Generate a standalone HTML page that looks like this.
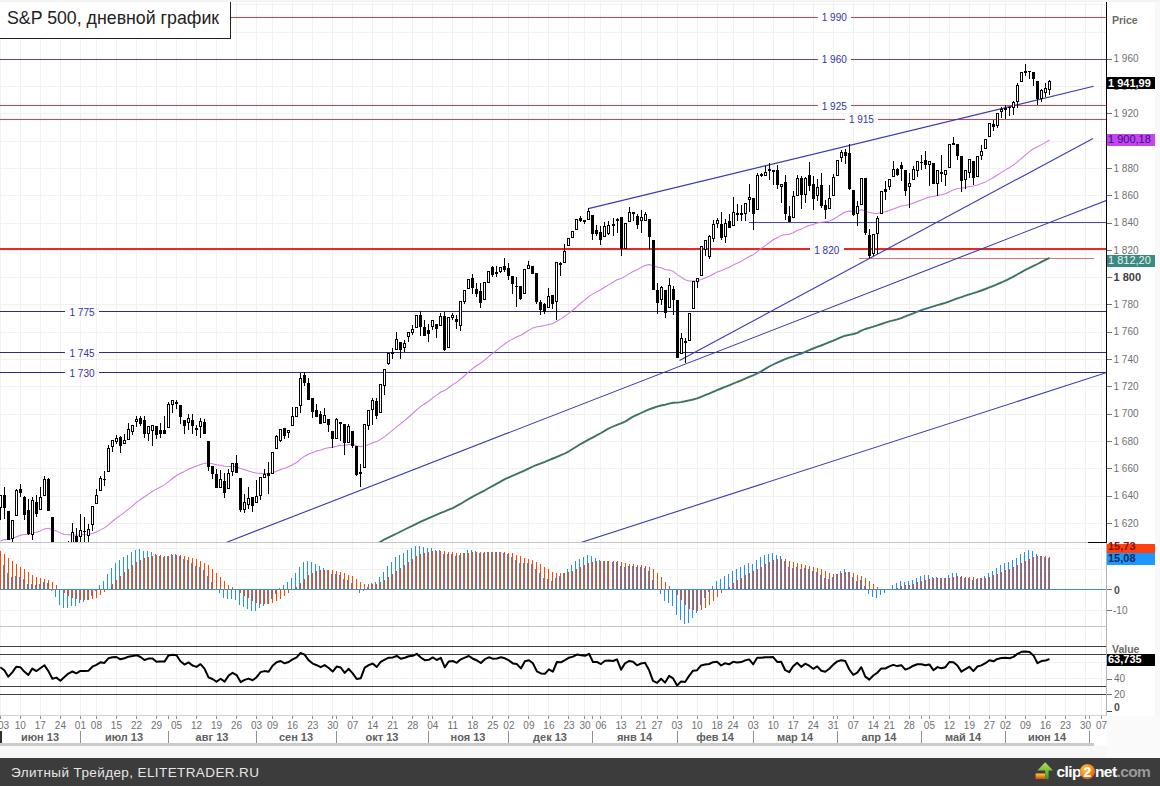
<!DOCTYPE html>
<html><head><meta charset="utf-8"><style>
html,body{margin:0;padding:0;background:#fff;}
body{width:1160px;height:786px;position:relative;overflow:hidden;font-family:"Liberation Sans",sans-serif;}
</style></head><body>
<svg width="1160" height="786" viewBox="0 0 1160 786" shape-rendering="crispEdges" style="position:absolute;left:0;top:0">
<defs><clipPath id="cm"><rect x="0" y="0" width="1106" height="542"/></clipPath>
<clipPath id="cd"><rect x="0" y="543" width="1106" height="83"/></clipPath>
<clipPath id="cr"><rect x="0" y="627" width="1106" height="88"/></clipPath></defs>
<rect x="0" y="0" width="1160" height="786" fill="#ffffff"/>
<path d="M0 0V715M20 0V715M40 0V715M60 0V715M80 0V715M96 0V715M116 0V715M136 0V715M156 0V715M176 0V715M196 0V715M216 0V715M236 0V715M256 0V715M272 0V715M292 0V715M312 0V715M332 0V715M352 0V715M372 0V715M392 0V715M412 0V715M432 0V715M452 0V715M472 0V715M492 0V715M508 0V715M528 0V715M548 0V715M568 0V715M584 0V715M600 0V715M621 0V715M641 0V715M657 0V715M677 0V715M697 0V715M717 0V715M733 0V715M753 0V715M773 0V715M793 0V715M813 0V715M833 0V715M853 0V715M873 0V715M889 0V715M909 0V715M929 0V715M949 0V715M969 0V715M989 0V715M1005 0V715M1025 0V715M1045 0V715M1065 0V715M1085 0V715M1101 0V715M0 523H1106M0 496H1106M0 468H1106M0 441H1106M0 414H1106M0 386H1106M0 359H1106M0 332H1106M0 304H1106M0 277H1106M0 250H1106M0 223H1106M0 195H1106M0 168H1106M0 141H1106M0 113H1106M0 86H1106M0 59H1106M0 32H1106M0 4H1106M0 569H1106M0 610H1106M0 548H1106M0 678H1106M0 662H1106" stroke="#f1f1f1" stroke-width="1" fill="none" transform="translate(0.5,0.5)"/>
<g clip-path="url(#cm)">
<rect x="0.0" y="16.5" width="817.7" height="1" fill="#d84040"/>
<rect x="851.0" y="16.5" width="255.0" height="1" fill="#d84040"/>
<rect x="0.0" y="58.5" width="817.7" height="1" fill="#4848c8"/>
<rect x="851.0" y="58.5" width="255.0" height="1" fill="#4848c8"/>
<rect x="0.0" y="105.0" width="817.7" height="1" fill="#d84040"/>
<rect x="851.0" y="105.0" width="255.0" height="1" fill="#d84040"/>
<rect x="0.0" y="118.5" width="844.5" height="1" fill="#d84040"/>
<rect x="878.3" y="118.5" width="227.7" height="1" fill="#d84040"/>
<rect x="749.0" y="221.5" width="357.0" height="1" fill="#4a4aa8"/>
<rect x="0.0" y="248.0" width="809.6" height="2" fill="#e82828"/>
<rect x="844.0" y="248.0" width="262.0" height="2" fill="#e82828"/>
<rect x="858.6" y="257.5" width="235.0" height="1" fill="#d27878"/>
<rect x="0.0" y="311.0" width="65.0" height="1" fill="#2c2c7c"/>
<rect x="99.0" y="311.0" width="1007.0" height="1" fill="#2c2c7c"/>
<rect x="0.0" y="352.0" width="65.0" height="1" fill="#2c2c7c"/>
<rect x="99.0" y="352.0" width="1007.0" height="1" fill="#2c2c7c"/>
<rect x="0.0" y="372.0" width="65.0" height="1" fill="#2c2c7c"/>
<rect x="99.0" y="372.0" width="1007.0" height="1" fill="#2c2c7c"/>
<line x1="588.4" y1="208.6" x2="1093.6" y2="86.3" stroke="#3a3ab0" stroke-width="1.1" shape-rendering="auto"/>
<line x1="679.5" y1="360.5" x2="1093.0" y2="138.4" stroke="#3a3ab0" stroke-width="1.1" shape-rendering="auto"/>
<line x1="226.2" y1="542.5" x2="1110.0" y2="199.0" stroke="#3a3ab0" stroke-width="1.1" shape-rendering="auto"/>
<line x1="579.5" y1="543.0" x2="1110.0" y2="371.5" stroke="#3a3ab0" stroke-width="1.1" shape-rendering="auto"/>
<polyline points="377.5,543.5 384.7,539.3 388.7,537.4 392.8,535.4 396.8,533.5 400.8,531.5 404.8,529.5 408.8,527.5 412.8,525.6 416.8,523.6 420.8,521.7 424.8,519.9 428.8,518.1 432.8,516.3 436.8,514.6 440.8,512.9 444.8,511.4 448.8,509.7 452.8,508.1 456.8,505.9 460.8,503.7 464.8,501.3 468.8,498.9 472.8,496.7 476.8,494.5 480.9,492.4 484.9,490.3 488.9,488.0 492.9,485.8 496.9,483.6 500.9,481.4 504.9,479.2 508.9,477.3 512.9,475.6 516.9,473.9 520.9,472.2 524.9,470.3 528.9,468.4 532.9,466.5 536.9,464.8 540.9,463.3 544.9,461.8 548.9,460.1 552.9,458.5 556.9,456.8 560.9,455.2 564.9,453.5 569.0,451.3 573.0,448.8 577.0,446.3 581.0,443.8 585.0,441.6 589.0,439.4 593.0,437.3 597.0,435.1 601.0,433.0 605.0,430.6 609.0,428.3 613.0,426.5 617.0,424.8 621.0,423.3 625.0,421.6 629.0,419.1 633.0,416.6 637.0,414.8 641.0,413.0 645.0,411.1 649.0,409.4 653.0,408.0 657.1,406.7 661.1,405.5 665.1,404.7 669.1,403.6 673.1,402.8 677.1,402.6 681.1,402.1 685.1,401.3 689.1,400.4 693.1,399.5 697.1,398.4 701.1,396.8 705.1,395.2 709.1,393.6 713.1,391.8 717.1,390.1 721.1,388.5 725.1,386.9 729.1,385.3 733.1,383.7 737.1,382.0 741.2,380.4 745.2,378.7 749.2,376.9 753.2,375.3 757.2,373.4 761.2,371.4 765.2,368.9 769.2,366.5 773.2,364.5 777.2,362.6 781.2,360.8 785.2,359.1 789.2,357.7 793.2,356.4 797.2,354.9 801.2,353.5 805.2,351.9 809.2,350.1 813.2,348.5 817.2,346.9 821.2,345.5 825.2,343.9 829.3,342.2 833.3,340.6 837.3,338.8 841.3,337.1 845.3,335.7 849.3,334.9 853.3,334.0 857.3,332.8 861.3,330.7 865.3,329.0 869.3,327.8 873.3,326.6 877.3,325.3 881.3,324.0 885.3,322.6 889.3,321.4 893.3,320.3 897.3,319.3 901.3,318.1 905.3,316.4 909.3,314.9 913.3,313.3 917.4,311.7 921.4,310.2 925.4,308.9 929.4,307.6 933.4,306.4 937.4,305.2 941.4,304.0 945.4,302.9 949.4,301.4 953.4,299.9 957.4,298.4 961.4,297.1 965.4,295.7 969.4,294.4 973.4,293.2 977.4,291.9 981.4,290.5 985.4,289.0 989.4,287.4 993.4,285.8 997.4,284.1 1001.4,282.5 1005.5,280.7 1009.5,278.7 1013.5,276.6 1017.5,274.3 1021.5,272.1 1025.5,269.8 1029.5,267.8 1033.5,265.9 1037.5,264.0 1041.5,261.9 1045.5,259.8 1049.5,257.8" fill="none" stroke="#3f7266" stroke-width="1.9" shape-rendering="auto" stroke-linejoin="round"/>
<polyline points="0.3,540.9 4.3,539.6 8.3,539.6 12.3,538.8 16.3,536.9 20.3,535.2 24.3,534.4 28.3,534.4 32.3,533.0 36.3,532.3 40.3,530.9 44.4,528.9 48.4,528.2 52.4,529.7 56.4,530.9 60.4,533.1 64.4,534.4 68.4,534.8 72.4,534.7 76.4,535.2 80.4,535.0 84.4,534.8 88.4,534.6 92.4,533.5 96.4,532.0 100.4,529.9 104.4,527.9 108.4,524.8 112.4,521.5 116.4,518.2 120.4,515.4 124.4,512.4 128.4,509.2 132.5,505.9 136.5,502.4 140.5,499.4 144.5,496.8 148.5,494.1 152.5,491.3 156.5,489.1 160.5,487.0 164.5,484.9 168.5,481.7 172.5,478.5 176.5,475.5 180.5,473.2 184.5,471.4 188.5,469.3 192.5,467.6 196.5,466.1 200.5,464.4 204.5,463.2 208.5,463.3 212.5,463.7 216.5,464.7 220.6,465.2 224.6,466.3 228.6,466.6 232.6,466.5 236.6,466.7 240.6,468.4 244.6,469.8 248.6,470.9 252.6,472.2 256.6,473.2 260.6,473.3 264.6,473.4 268.6,473.5 272.6,472.6 276.6,471.2 280.6,469.5 284.6,468.2 288.6,466.7 292.6,464.8 296.6,462.5 300.6,459.2 304.6,456.2 308.7,454.0 312.7,452.4 316.7,451.0 320.7,449.9 324.7,448.6 328.7,447.7 332.7,447.3 336.7,446.2 340.7,445.3 344.7,445.2 348.7,444.4 352.7,444.5 356.7,445.7 360.7,446.7 364.7,445.8 368.7,444.4 372.7,442.7 376.7,441.6 380.7,439.4 384.7,436.6 388.7,433.3 392.8,430.1 396.8,426.6 400.8,423.6 404.8,420.4 408.8,417.0 412.8,413.5 416.8,409.7 420.8,406.4 424.8,403.7 428.8,401.0 432.8,397.8 436.8,395.1 440.8,392.0 444.8,390.4 448.8,387.5 452.8,384.6 456.8,382.2 460.8,379.0 464.8,375.5 468.8,371.7 472.8,368.4 476.8,365.5 480.9,363.0 484.9,359.9 488.9,356.4 492.9,353.2 496.9,350.1 500.9,346.8 504.9,343.8 508.9,341.1 512.9,338.9 516.9,336.8 520.9,335.3 524.9,332.7 528.9,330.1 532.9,327.9 536.9,326.8 540.9,326.2 544.9,325.6 548.9,324.4 552.9,323.6 556.9,321.2 560.9,318.9 564.9,316.3 569.0,313.2 573.0,310.0 577.0,306.4 581.0,303.0 585.0,299.9 589.0,296.4 593.0,293.9 597.0,291.6 601.0,289.5 605.0,287.0 609.0,284.6 613.0,282.3 617.0,279.8 621.0,278.6 625.0,276.4 629.0,273.9 633.0,271.5 637.0,269.7 641.0,267.6 645.0,265.5 649.0,264.4 653.0,265.4 657.1,266.9 661.1,267.7 665.1,269.4 669.1,270.0 673.1,271.2 677.1,274.6 681.1,277.1 685.1,279.7 689.1,281.0 693.1,281.0 697.1,280.9 701.1,279.5 705.1,278.0 709.1,276.3 713.1,274.2 717.1,272.1 721.1,270.8 725.1,268.9 729.1,267.3 733.1,265.1 737.1,263.2 741.2,261.2 745.2,258.9 749.2,256.5 753.2,254.8 757.2,251.7 761.2,248.6 765.2,245.6 769.2,242.7 773.2,239.8 777.2,237.7 781.2,235.6 785.2,234.7 789.2,234.2 793.2,232.7 797.2,230.5 801.2,229.1 805.2,227.1 809.2,225.5 813.2,224.5 817.2,223.0 821.2,222.3 825.2,221.8 829.3,220.9 833.3,219.2 837.3,216.9 841.3,214.3 845.3,212.0 849.3,211.1 853.3,211.3 857.3,211.1 861.3,209.8 865.3,210.7 869.3,212.5 873.3,213.3 877.3,213.5 881.3,212.6 885.3,211.8 889.3,210.5 893.3,208.9 897.3,207.6 901.3,206.1 905.3,205.5 909.3,204.6 913.3,203.2 917.4,201.6 921.4,200.0 925.4,198.6 929.4,197.1 933.4,196.6 937.4,195.6 941.4,194.7 945.4,193.7 949.4,191.8 953.4,189.9 957.4,188.6 961.4,188.3 965.4,187.6 969.4,186.5 973.4,186.1 977.4,185.0 981.4,183.6 985.4,181.9 989.4,179.6 993.4,177.5 997.4,175.0 1001.4,172.4 1005.5,169.9 1009.5,167.5 1013.5,164.9 1017.5,161.8 1021.5,158.3 1025.5,154.8 1029.5,151.6 1033.5,148.7 1037.5,146.8 1041.5,144.6 1045.5,142.4 1049.5,140.0" fill="none" stroke="#d07ce0" stroke-width="1.05" shape-rendering="auto" stroke-linejoin="round"/>
<rect x="0" y="495" width="1" height="25" fill="#000"/>
<rect x="-1" y="495" width="3" height="13" fill="#000"/>
<rect x="0" y="496" width="1" height="11" fill="#fff"/>
<rect x="4" y="487" width="1" height="32" fill="#000"/>
<rect x="3" y="495" width="3" height="13" fill="#000"/>
<rect x="8" y="511" width="1" height="29" fill="#000"/>
<rect x="7" y="511" width="3" height="29" fill="#000"/>
<rect x="12" y="520" width="1" height="25" fill="#000"/>
<rect x="11" y="520" width="3" height="19" fill="#000"/>
<rect x="12" y="521" width="1" height="17" fill="#fff"/>
<rect x="16" y="489" width="1" height="27" fill="#000"/>
<rect x="15" y="490" width="3" height="26" fill="#000"/>
<rect x="16" y="491" width="1" height="24" fill="#fff"/>
<rect x="20" y="484" width="1" height="13" fill="#000"/>
<rect x="19" y="489" width="3" height="4" fill="#000"/>
<rect x="24" y="496" width="1" height="24" fill="#000"/>
<rect x="23" y="497" width="3" height="18" fill="#000"/>
<rect x="28" y="499" width="1" height="36" fill="#000"/>
<rect x="27" y="510" width="3" height="24" fill="#000"/>
<rect x="32" y="497" width="1" height="43" fill="#000"/>
<rect x="31" y="500" width="3" height="35" fill="#000"/>
<rect x="32" y="501" width="1" height="33" fill="#fff"/>
<rect x="36" y="495" width="1" height="22" fill="#000"/>
<rect x="35" y="502" width="3" height="12" fill="#000"/>
<rect x="40" y="487" width="1" height="23" fill="#000"/>
<rect x="39" y="497" width="3" height="13" fill="#000"/>
<rect x="40" y="498" width="1" height="11" fill="#fff"/>
<rect x="44" y="476" width="1" height="20" fill="#000"/>
<rect x="43" y="479" width="3" height="17" fill="#000"/>
<rect x="44" y="480" width="1" height="15" fill="#fff"/>
<rect x="48" y="478" width="1" height="33" fill="#000"/>
<rect x="47" y="479" width="3" height="32" fill="#000"/>
<rect x="52" y="517" width="1" height="49" fill="#000"/>
<rect x="51" y="517" width="3" height="48" fill="#000"/>
<rect x="56" y="546" width="1" height="16" fill="#000"/>
<rect x="55" y="548" width="3" height="12" fill="#000"/>
<rect x="60" y="555" width="1" height="25" fill="#000"/>
<rect x="59" y="560" width="3" height="15" fill="#000"/>
<rect x="64" y="555" width="1" height="20" fill="#000"/>
<rect x="63" y="560" width="3" height="10" fill="#000"/>
<rect x="64" y="561" width="1" height="8" fill="#fff"/>
<rect x="68" y="541" width="1" height="20" fill="#000"/>
<rect x="67" y="549" width="3" height="11" fill="#000"/>
<rect x="68" y="550" width="1" height="9" fill="#fff"/>
<rect x="72" y="523" width="1" height="22" fill="#000"/>
<rect x="71" y="532" width="3" height="13" fill="#000"/>
<rect x="72" y="533" width="1" height="11" fill="#fff"/>
<rect x="76" y="528" width="1" height="17" fill="#000"/>
<rect x="75" y="536" width="3" height="9" fill="#000"/>
<rect x="80" y="514" width="1" height="31" fill="#000"/>
<rect x="79" y="530" width="3" height="7" fill="#000"/>
<rect x="80" y="531" width="1" height="5" fill="#fff"/>
<rect x="84" y="517" width="1" height="28" fill="#000"/>
<rect x="83" y="531" width="3" height="1" fill="#000"/>
<rect x="88" y="524" width="1" height="21" fill="#000"/>
<rect x="87" y="529" width="3" height="7" fill="#000"/>
<rect x="88" y="530" width="1" height="5" fill="#fff"/>
<rect x="92" y="506" width="1" height="25" fill="#000"/>
<rect x="91" y="506" width="3" height="19" fill="#000"/>
<rect x="92" y="507" width="1" height="17" fill="#fff"/>
<rect x="96" y="489" width="1" height="15" fill="#000"/>
<rect x="95" y="495" width="3" height="9" fill="#000"/>
<rect x="96" y="496" width="1" height="7" fill="#fff"/>
<rect x="100" y="476" width="1" height="15" fill="#000"/>
<rect x="99" y="478" width="3" height="13" fill="#000"/>
<rect x="100" y="479" width="1" height="11" fill="#fff"/>
<rect x="104" y="471" width="1" height="15" fill="#000"/>
<rect x="103" y="479" width="3" height="1" fill="#000"/>
<rect x="108" y="445" width="1" height="27" fill="#000"/>
<rect x="107" y="448" width="3" height="24" fill="#000"/>
<rect x="108" y="449" width="1" height="22" fill="#fff"/>
<rect x="112" y="440" width="1" height="12" fill="#000"/>
<rect x="111" y="440" width="3" height="7" fill="#000"/>
<rect x="112" y="441" width="1" height="5" fill="#fff"/>
<rect x="116" y="435" width="1" height="9" fill="#000"/>
<rect x="115" y="438" width="3" height="4" fill="#000"/>
<rect x="116" y="439" width="1" height="2" fill="#fff"/>
<rect x="120" y="436" width="1" height="17" fill="#000"/>
<rect x="119" y="437" width="3" height="9" fill="#000"/>
<rect x="124" y="434" width="1" height="10" fill="#000"/>
<rect x="123" y="440" width="3" height="4" fill="#000"/>
<rect x="124" y="441" width="1" height="2" fill="#fff"/>
<rect x="128" y="423" width="1" height="17" fill="#000"/>
<rect x="127" y="429" width="3" height="11" fill="#000"/>
<rect x="128" y="430" width="1" height="9" fill="#fff"/>
<rect x="132" y="425" width="1" height="10" fill="#000"/>
<rect x="131" y="425" width="3" height="7" fill="#000"/>
<rect x="132" y="426" width="1" height="5" fill="#fff"/>
<rect x="136" y="416" width="1" height="11" fill="#000"/>
<rect x="135" y="419" width="3" height="3" fill="#000"/>
<rect x="136" y="420" width="1" height="1" fill="#fff"/>
<rect x="140" y="416" width="1" height="10" fill="#000"/>
<rect x="139" y="418" width="3" height="6" fill="#000"/>
<rect x="144" y="416" width="1" height="22" fill="#000"/>
<rect x="143" y="420" width="3" height="14" fill="#000"/>
<rect x="148" y="426" width="1" height="15" fill="#000"/>
<rect x="147" y="426" width="3" height="8" fill="#000"/>
<rect x="148" y="427" width="1" height="6" fill="#fff"/>
<rect x="152" y="425" width="1" height="21" fill="#000"/>
<rect x="151" y="425" width="3" height="6" fill="#000"/>
<rect x="152" y="426" width="1" height="4" fill="#fff"/>
<rect x="156" y="426" width="1" height="13" fill="#000"/>
<rect x="155" y="426" width="3" height="9" fill="#000"/>
<rect x="160" y="423" width="1" height="15" fill="#000"/>
<rect x="159" y="430" width="3" height="4" fill="#000"/>
<rect x="164" y="416" width="1" height="18" fill="#000"/>
<rect x="163" y="430" width="3" height="4" fill="#000"/>
<rect x="168" y="402" width="1" height="26" fill="#000"/>
<rect x="167" y="404" width="3" height="24" fill="#000"/>
<rect x="168" y="405" width="1" height="22" fill="#fff"/>
<rect x="172" y="400" width="1" height="13" fill="#000"/>
<rect x="171" y="400" width="3" height="5" fill="#000"/>
<rect x="172" y="401" width="1" height="3" fill="#fff"/>
<rect x="176" y="400" width="1" height="9" fill="#000"/>
<rect x="175" y="402" width="3" height="2" fill="#000"/>
<rect x="180" y="405" width="1" height="19" fill="#000"/>
<rect x="179" y="405" width="3" height="12" fill="#000"/>
<rect x="184" y="420" width="1" height="14" fill="#000"/>
<rect x="183" y="420" width="3" height="6" fill="#000"/>
<rect x="188" y="414" width="1" height="16" fill="#000"/>
<rect x="187" y="418" width="3" height="5" fill="#000"/>
<rect x="188" y="419" width="1" height="3" fill="#fff"/>
<rect x="192" y="414" width="1" height="20" fill="#000"/>
<rect x="191" y="420" width="3" height="6" fill="#000"/>
<rect x="196" y="425" width="1" height="11" fill="#000"/>
<rect x="195" y="428" width="3" height="2" fill="#000"/>
<rect x="200" y="418" width="1" height="20" fill="#000"/>
<rect x="199" y="421" width="3" height="6" fill="#000"/>
<rect x="200" y="422" width="1" height="4" fill="#fff"/>
<rect x="204" y="419" width="1" height="15" fill="#000"/>
<rect x="203" y="422" width="3" height="12" fill="#000"/>
<rect x="208" y="441" width="1" height="30" fill="#000"/>
<rect x="207" y="441" width="3" height="26" fill="#000"/>
<rect x="212" y="466" width="1" height="13" fill="#000"/>
<rect x="211" y="466" width="3" height="8" fill="#000"/>
<rect x="216" y="469" width="1" height="19" fill="#000"/>
<rect x="215" y="474" width="3" height="14" fill="#000"/>
<rect x="220" y="470" width="1" height="18" fill="#000"/>
<rect x="219" y="479" width="3" height="9" fill="#000"/>
<rect x="220" y="480" width="1" height="7" fill="#fff"/>
<rect x="224" y="473" width="1" height="25" fill="#000"/>
<rect x="223" y="481" width="3" height="12" fill="#000"/>
<rect x="228" y="469" width="1" height="20" fill="#000"/>
<rect x="227" y="473" width="3" height="16" fill="#000"/>
<rect x="228" y="474" width="1" height="14" fill="#fff"/>
<rect x="232" y="463" width="1" height="13" fill="#000"/>
<rect x="231" y="463" width="3" height="9" fill="#000"/>
<rect x="232" y="464" width="1" height="7" fill="#fff"/>
<rect x="236" y="455" width="1" height="18" fill="#000"/>
<rect x="235" y="463" width="3" height="10" fill="#000"/>
<rect x="240" y="478" width="1" height="34" fill="#000"/>
<rect x="239" y="478" width="3" height="32" fill="#000"/>
<rect x="244" y="494" width="1" height="19" fill="#000"/>
<rect x="243" y="502" width="3" height="8" fill="#000"/>
<rect x="244" y="503" width="1" height="6" fill="#fff"/>
<rect x="248" y="487" width="1" height="22" fill="#000"/>
<rect x="247" y="498" width="3" height="7" fill="#000"/>
<rect x="248" y="499" width="1" height="5" fill="#fff"/>
<rect x="252" y="497" width="1" height="15" fill="#000"/>
<rect x="251" y="497" width="3" height="9" fill="#000"/>
<rect x="256" y="480" width="1" height="23" fill="#000"/>
<rect x="255" y="496" width="3" height="7" fill="#000"/>
<rect x="256" y="497" width="1" height="5" fill="#fff"/>
<rect x="260" y="477" width="1" height="23" fill="#000"/>
<rect x="259" y="477" width="3" height="19" fill="#000"/>
<rect x="260" y="478" width="1" height="17" fill="#fff"/>
<rect x="264" y="469" width="1" height="9" fill="#000"/>
<rect x="263" y="474" width="3" height="4" fill="#000"/>
<rect x="264" y="475" width="1" height="2" fill="#fff"/>
<rect x="268" y="462" width="1" height="32" fill="#000"/>
<rect x="267" y="473" width="3" height="3" fill="#000"/>
<rect x="272" y="452" width="1" height="22" fill="#000"/>
<rect x="271" y="452" width="3" height="22" fill="#000"/>
<rect x="272" y="453" width="1" height="20" fill="#fff"/>
<rect x="276" y="435" width="1" height="14" fill="#000"/>
<rect x="275" y="436" width="3" height="13" fill="#000"/>
<rect x="276" y="437" width="1" height="11" fill="#fff"/>
<rect x="280" y="429" width="1" height="13" fill="#000"/>
<rect x="279" y="429" width="3" height="12" fill="#000"/>
<rect x="280" y="430" width="1" height="10" fill="#fff"/>
<rect x="284" y="428" width="1" height="11" fill="#000"/>
<rect x="283" y="428" width="3" height="8" fill="#000"/>
<rect x="288" y="430" width="1" height="8" fill="#000"/>
<rect x="287" y="430" width="3" height="3" fill="#000"/>
<rect x="288" y="431" width="1" height="1" fill="#fff"/>
<rect x="292" y="407" width="1" height="19" fill="#000"/>
<rect x="291" y="416" width="3" height="10" fill="#000"/>
<rect x="292" y="417" width="1" height="8" fill="#fff"/>
<rect x="296" y="407" width="1" height="10" fill="#000"/>
<rect x="295" y="407" width="3" height="10" fill="#000"/>
<rect x="296" y="408" width="1" height="8" fill="#fff"/>
<rect x="300" y="373" width="1" height="40" fill="#000"/>
<rect x="299" y="378" width="3" height="28" fill="#000"/>
<rect x="300" y="379" width="1" height="26" fill="#fff"/>
<rect x="304" y="372" width="1" height="14" fill="#000"/>
<rect x="303" y="375" width="3" height="8" fill="#000"/>
<rect x="308" y="378" width="1" height="22" fill="#000"/>
<rect x="307" y="383" width="3" height="17" fill="#000"/>
<rect x="312" y="398" width="1" height="20" fill="#000"/>
<rect x="311" y="398" width="3" height="14" fill="#000"/>
<rect x="316" y="404" width="1" height="13" fill="#000"/>
<rect x="315" y="410" width="3" height="7" fill="#000"/>
<rect x="320" y="411" width="1" height="13" fill="#000"/>
<rect x="319" y="414" width="3" height="10" fill="#000"/>
<rect x="324" y="408" width="1" height="15" fill="#000"/>
<rect x="323" y="415" width="3" height="8" fill="#000"/>
<rect x="324" y="416" width="1" height="6" fill="#fff"/>
<rect x="328" y="419" width="1" height="13" fill="#000"/>
<rect x="327" y="419" width="3" height="6" fill="#000"/>
<rect x="332" y="431" width="1" height="17" fill="#000"/>
<rect x="331" y="431" width="3" height="8" fill="#000"/>
<rect x="336" y="418" width="1" height="21" fill="#000"/>
<rect x="335" y="419" width="3" height="20" fill="#000"/>
<rect x="336" y="420" width="1" height="18" fill="#fff"/>
<rect x="340" y="422" width="1" height="19" fill="#000"/>
<rect x="339" y="422" width="3" height="2" fill="#000"/>
<rect x="344" y="424" width="1" height="31" fill="#000"/>
<rect x="343" y="424" width="3" height="19" fill="#000"/>
<rect x="348" y="424" width="1" height="19" fill="#000"/>
<rect x="347" y="426" width="3" height="17" fill="#000"/>
<rect x="348" y="427" width="1" height="15" fill="#fff"/>
<rect x="352" y="431" width="1" height="17" fill="#000"/>
<rect x="351" y="431" width="3" height="15" fill="#000"/>
<rect x="356" y="446" width="1" height="30" fill="#000"/>
<rect x="355" y="446" width="3" height="29" fill="#000"/>
<rect x="360" y="464" width="1" height="23" fill="#000"/>
<rect x="359" y="472" width="3" height="2" fill="#000"/>
<rect x="364" y="424" width="1" height="44" fill="#000"/>
<rect x="363" y="424" width="3" height="44" fill="#000"/>
<rect x="364" y="425" width="1" height="42" fill="#fff"/>
<rect x="368" y="410" width="1" height="20" fill="#000"/>
<rect x="367" y="410" width="3" height="16" fill="#000"/>
<rect x="368" y="411" width="1" height="14" fill="#fff"/>
<rect x="372" y="398" width="1" height="27" fill="#000"/>
<rect x="371" y="400" width="3" height="10" fill="#000"/>
<rect x="372" y="401" width="1" height="8" fill="#fff"/>
<rect x="376" y="398" width="1" height="21" fill="#000"/>
<rect x="375" y="401" width="3" height="15" fill="#000"/>
<rect x="380" y="384" width="1" height="29" fill="#000"/>
<rect x="379" y="384" width="3" height="29" fill="#000"/>
<rect x="380" y="385" width="1" height="27" fill="#fff"/>
<rect x="384" y="369" width="1" height="26" fill="#000"/>
<rect x="383" y="369" width="3" height="17" fill="#000"/>
<rect x="384" y="370" width="1" height="15" fill="#fff"/>
<rect x="388" y="353" width="1" height="12" fill="#000"/>
<rect x="387" y="353" width="3" height="11" fill="#000"/>
<rect x="388" y="354" width="1" height="9" fill="#fff"/>
<rect x="392" y="348" width="1" height="11" fill="#000"/>
<rect x="391" y="352" width="3" height="2" fill="#000"/>
<rect x="396" y="332" width="1" height="18" fill="#000"/>
<rect x="395" y="339" width="3" height="11" fill="#000"/>
<rect x="396" y="340" width="1" height="9" fill="#fff"/>
<rect x="400" y="342" width="1" height="17" fill="#000"/>
<rect x="399" y="342" width="3" height="8" fill="#000"/>
<rect x="404" y="340" width="1" height="12" fill="#000"/>
<rect x="403" y="343" width="3" height="5" fill="#000"/>
<rect x="404" y="344" width="1" height="3" fill="#fff"/>
<rect x="408" y="332" width="1" height="10" fill="#000"/>
<rect x="407" y="332" width="3" height="5" fill="#000"/>
<rect x="408" y="333" width="1" height="3" fill="#fff"/>
<rect x="412" y="325" width="1" height="10" fill="#000"/>
<rect x="411" y="329" width="3" height="4" fill="#000"/>
<rect x="412" y="330" width="1" height="2" fill="#fff"/>
<rect x="416" y="315" width="1" height="13" fill="#000"/>
<rect x="415" y="315" width="3" height="13" fill="#000"/>
<rect x="416" y="316" width="1" height="11" fill="#fff"/>
<rect x="420" y="311" width="1" height="25" fill="#000"/>
<rect x="419" y="315" width="3" height="12" fill="#000"/>
<rect x="424" y="320" width="1" height="16" fill="#000"/>
<rect x="423" y="327" width="3" height="9" fill="#000"/>
<rect x="428" y="324" width="1" height="18" fill="#000"/>
<rect x="427" y="330" width="3" height="4" fill="#000"/>
<rect x="432" y="320" width="1" height="10" fill="#000"/>
<rect x="431" y="320" width="3" height="7" fill="#000"/>
<rect x="432" y="321" width="1" height="5" fill="#fff"/>
<rect x="436" y="324" width="1" height="14" fill="#000"/>
<rect x="435" y="324" width="3" height="5" fill="#000"/>
<rect x="440" y="313" width="1" height="13" fill="#000"/>
<rect x="439" y="316" width="3" height="10" fill="#000"/>
<rect x="440" y="317" width="1" height="8" fill="#fff"/>
<rect x="444" y="312" width="1" height="39" fill="#000"/>
<rect x="443" y="316" width="3" height="34" fill="#000"/>
<rect x="448" y="317" width="1" height="31" fill="#000"/>
<rect x="447" y="317" width="3" height="31" fill="#000"/>
<rect x="448" y="318" width="1" height="29" fill="#fff"/>
<rect x="452" y="313" width="1" height="7" fill="#000"/>
<rect x="451" y="315" width="3" height="3" fill="#000"/>
<rect x="452" y="316" width="1" height="1" fill="#fff"/>
<rect x="456" y="315" width="1" height="14" fill="#000"/>
<rect x="455" y="319" width="3" height="3" fill="#000"/>
<rect x="460" y="301" width="1" height="30" fill="#000"/>
<rect x="459" y="301" width="3" height="25" fill="#000"/>
<rect x="460" y="302" width="1" height="23" fill="#fff"/>
<rect x="464" y="290" width="1" height="14" fill="#000"/>
<rect x="463" y="290" width="3" height="12" fill="#000"/>
<rect x="464" y="291" width="1" height="10" fill="#fff"/>
<rect x="468" y="279" width="1" height="10" fill="#000"/>
<rect x="467" y="279" width="3" height="10" fill="#000"/>
<rect x="468" y="280" width="1" height="8" fill="#fff"/>
<rect x="472" y="274" width="1" height="20" fill="#000"/>
<rect x="471" y="278" width="3" height="10" fill="#000"/>
<rect x="476" y="283" width="1" height="14" fill="#000"/>
<rect x="475" y="289" width="3" height="5" fill="#000"/>
<rect x="480" y="283" width="1" height="25" fill="#000"/>
<rect x="479" y="291" width="3" height="12" fill="#000"/>
<rect x="484" y="282" width="1" height="18" fill="#000"/>
<rect x="483" y="282" width="3" height="18" fill="#000"/>
<rect x="484" y="283" width="1" height="16" fill="#fff"/>
<rect x="488" y="271" width="1" height="12" fill="#000"/>
<rect x="487" y="271" width="3" height="12" fill="#000"/>
<rect x="488" y="272" width="1" height="10" fill="#fff"/>
<rect x="492" y="266" width="1" height="11" fill="#000"/>
<rect x="491" y="267" width="3" height="8" fill="#000"/>
<rect x="496" y="266" width="1" height="11" fill="#000"/>
<rect x="495" y="272" width="3" height="2" fill="#000"/>
<rect x="500" y="267" width="1" height="6" fill="#000"/>
<rect x="499" y="267" width="3" height="5" fill="#000"/>
<rect x="500" y="268" width="1" height="3" fill="#fff"/>
<rect x="504" y="258" width="1" height="14" fill="#000"/>
<rect x="503" y="266" width="3" height="4" fill="#000"/>
<rect x="508" y="263" width="1" height="17" fill="#000"/>
<rect x="507" y="268" width="3" height="8" fill="#000"/>
<rect x="512" y="276" width="1" height="18" fill="#000"/>
<rect x="511" y="276" width="3" height="8" fill="#000"/>
<rect x="516" y="277" width="1" height="30" fill="#000"/>
<rect x="515" y="286" width="3" height="1" fill="#000"/>
<rect x="520" y="286" width="1" height="14" fill="#000"/>
<rect x="519" y="286" width="3" height="13" fill="#000"/>
<rect x="524" y="269" width="1" height="25" fill="#000"/>
<rect x="523" y="269" width="3" height="25" fill="#000"/>
<rect x="524" y="270" width="1" height="23" fill="#fff"/>
<rect x="528" y="261" width="1" height="8" fill="#000"/>
<rect x="527" y="265" width="3" height="4" fill="#000"/>
<rect x="528" y="266" width="1" height="2" fill="#fff"/>
<rect x="532" y="266" width="1" height="8" fill="#000"/>
<rect x="531" y="266" width="3" height="8" fill="#000"/>
<rect x="536" y="273" width="1" height="31" fill="#000"/>
<rect x="535" y="273" width="3" height="29" fill="#000"/>
<rect x="540" y="300" width="1" height="15" fill="#000"/>
<rect x="539" y="302" width="3" height="8" fill="#000"/>
<rect x="544" y="303" width="1" height="11" fill="#000"/>
<rect x="543" y="304" width="3" height="8" fill="#000"/>
<rect x="548" y="288" width="1" height="20" fill="#000"/>
<rect x="547" y="296" width="3" height="12" fill="#000"/>
<rect x="548" y="297" width="1" height="10" fill="#fff"/>
<rect x="552" y="295" width="1" height="14" fill="#000"/>
<rect x="551" y="295" width="3" height="9" fill="#000"/>
<rect x="556" y="262" width="1" height="58" fill="#000"/>
<rect x="555" y="262" width="3" height="40" fill="#000"/>
<rect x="556" y="263" width="1" height="38" fill="#fff"/>
<rect x="560" y="262" width="1" height="14" fill="#000"/>
<rect x="559" y="263" width="3" height="2" fill="#000"/>
<rect x="564" y="244" width="1" height="19" fill="#000"/>
<rect x="563" y="251" width="3" height="12" fill="#000"/>
<rect x="564" y="252" width="1" height="10" fill="#fff"/>
<rect x="568" y="238" width="1" height="8" fill="#000"/>
<rect x="567" y="238" width="3" height="8" fill="#000"/>
<rect x="568" y="239" width="1" height="6" fill="#fff"/>
<rect x="572" y="231" width="1" height="7" fill="#000"/>
<rect x="571" y="231" width="3" height="7" fill="#000"/>
<rect x="572" y="232" width="1" height="5" fill="#fff"/>
<rect x="576" y="219" width="1" height="11" fill="#000"/>
<rect x="575" y="219" width="3" height="11" fill="#000"/>
<rect x="576" y="220" width="1" height="9" fill="#fff"/>
<rect x="580" y="216" width="1" height="6" fill="#000"/>
<rect x="579" y="218" width="3" height="3" fill="#000"/>
<rect x="584" y="220" width="1" height="4" fill="#000"/>
<rect x="583" y="220" width="3" height="2" fill="#000"/>
<rect x="588" y="208" width="1" height="12" fill="#000"/>
<rect x="587" y="211" width="3" height="9" fill="#000"/>
<rect x="588" y="212" width="1" height="7" fill="#fff"/>
<rect x="592" y="215" width="1" height="25" fill="#000"/>
<rect x="591" y="215" width="3" height="19" fill="#000"/>
<rect x="596" y="225" width="1" height="11" fill="#000"/>
<rect x="595" y="230" width="3" height="4" fill="#000"/>
<rect x="600" y="226" width="1" height="19" fill="#000"/>
<rect x="599" y="232" width="3" height="8" fill="#000"/>
<rect x="604" y="222" width="1" height="15" fill="#000"/>
<rect x="603" y="226" width="3" height="11" fill="#000"/>
<rect x="604" y="227" width="1" height="9" fill="#fff"/>
<rect x="608" y="221" width="1" height="14" fill="#000"/>
<rect x="607" y="225" width="3" height="9" fill="#000"/>
<rect x="608" y="226" width="1" height="7" fill="#fff"/>
<rect x="613" y="218" width="1" height="18" fill="#000"/>
<rect x="612" y="224" width="3" height="2" fill="#000"/>
<rect x="617" y="218" width="1" height="15" fill="#000"/>
<rect x="616" y="219" width="3" height="2" fill="#000"/>
<rect x="621" y="217" width="1" height="39" fill="#000"/>
<rect x="620" y="217" width="3" height="32" fill="#000"/>
<rect x="625" y="223" width="1" height="26" fill="#000"/>
<rect x="624" y="223" width="3" height="26" fill="#000"/>
<rect x="625" y="224" width="1" height="24" fill="#fff"/>
<rect x="629" y="207" width="1" height="15" fill="#000"/>
<rect x="628" y="212" width="3" height="10" fill="#000"/>
<rect x="629" y="213" width="1" height="8" fill="#fff"/>
<rect x="633" y="212" width="1" height="9" fill="#000"/>
<rect x="632" y="212" width="3" height="2" fill="#000"/>
<rect x="637" y="214" width="1" height="15" fill="#000"/>
<rect x="636" y="216" width="3" height="9" fill="#000"/>
<rect x="641" y="210" width="1" height="23" fill="#000"/>
<rect x="640" y="217" width="3" height="4" fill="#000"/>
<rect x="641" y="218" width="1" height="2" fill="#fff"/>
<rect x="645" y="212" width="1" height="9" fill="#000"/>
<rect x="644" y="214" width="3" height="7" fill="#000"/>
<rect x="645" y="215" width="1" height="5" fill="#fff"/>
<rect x="649" y="219" width="1" height="30" fill="#000"/>
<rect x="648" y="219" width="3" height="18" fill="#000"/>
<rect x="653" y="240" width="1" height="50" fill="#000"/>
<rect x="652" y="240" width="3" height="50" fill="#000"/>
<rect x="657" y="283" width="1" height="31" fill="#000"/>
<rect x="656" y="290" width="3" height="13" fill="#000"/>
<rect x="661" y="286" width="1" height="19" fill="#000"/>
<rect x="660" y="287" width="3" height="13" fill="#000"/>
<rect x="661" y="288" width="1" height="11" fill="#fff"/>
<rect x="665" y="290" width="1" height="28" fill="#000"/>
<rect x="664" y="290" width="3" height="23" fill="#000"/>
<rect x="669" y="278" width="1" height="30" fill="#000"/>
<rect x="668" y="285" width="3" height="23" fill="#000"/>
<rect x="669" y="286" width="1" height="21" fill="#fff"/>
<rect x="673" y="286" width="1" height="29" fill="#000"/>
<rect x="672" y="289" width="3" height="11" fill="#000"/>
<rect x="677" y="300" width="1" height="58" fill="#000"/>
<rect x="676" y="300" width="3" height="58" fill="#000"/>
<rect x="681" y="333" width="1" height="21" fill="#000"/>
<rect x="680" y="338" width="3" height="16" fill="#000"/>
<rect x="681" y="339" width="1" height="14" fill="#fff"/>
<rect x="685" y="338" width="1" height="25" fill="#000"/>
<rect x="684" y="341" width="3" height="2" fill="#000"/>
<rect x="689" y="313" width="1" height="28" fill="#000"/>
<rect x="688" y="313" width="3" height="28" fill="#000"/>
<rect x="689" y="314" width="1" height="26" fill="#fff"/>
<rect x="693" y="281" width="1" height="28" fill="#000"/>
<rect x="692" y="281" width="3" height="28" fill="#000"/>
<rect x="693" y="282" width="1" height="26" fill="#fff"/>
<rect x="697" y="278" width="1" height="10" fill="#000"/>
<rect x="696" y="278" width="3" height="4" fill="#000"/>
<rect x="697" y="279" width="1" height="2" fill="#fff"/>
<rect x="701" y="246" width="1" height="30" fill="#000"/>
<rect x="700" y="246" width="3" height="30" fill="#000"/>
<rect x="701" y="247" width="1" height="28" fill="#fff"/>
<rect x="705" y="240" width="1" height="16" fill="#000"/>
<rect x="704" y="240" width="3" height="10" fill="#000"/>
<rect x="705" y="241" width="1" height="8" fill="#fff"/>
<rect x="709" y="235" width="1" height="24" fill="#000"/>
<rect x="708" y="236" width="3" height="21" fill="#000"/>
<rect x="709" y="237" width="1" height="19" fill="#fff"/>
<rect x="713" y="220" width="1" height="22" fill="#000"/>
<rect x="712" y="224" width="3" height="15" fill="#000"/>
<rect x="713" y="225" width="1" height="13" fill="#fff"/>
<rect x="717" y="218" width="1" height="10" fill="#000"/>
<rect x="716" y="220" width="3" height="4" fill="#000"/>
<rect x="717" y="221" width="1" height="2" fill="#fff"/>
<rect x="721" y="212" width="1" height="28" fill="#000"/>
<rect x="720" y="224" width="3" height="14" fill="#000"/>
<rect x="725" y="219" width="1" height="24" fill="#000"/>
<rect x="724" y="223" width="3" height="14" fill="#000"/>
<rect x="725" y="224" width="1" height="12" fill="#fff"/>
<rect x="729" y="214" width="1" height="14" fill="#000"/>
<rect x="728" y="221" width="3" height="7" fill="#000"/>
<rect x="733" y="197" width="1" height="29" fill="#000"/>
<rect x="732" y="212" width="3" height="14" fill="#000"/>
<rect x="733" y="213" width="1" height="12" fill="#fff"/>
<rect x="737" y="204" width="1" height="17" fill="#000"/>
<rect x="736" y="213" width="3" height="2" fill="#000"/>
<rect x="741" y="205" width="1" height="16" fill="#000"/>
<rect x="740" y="213" width="3" height="2" fill="#000"/>
<rect x="745" y="203" width="1" height="18" fill="#000"/>
<rect x="744" y="203" width="3" height="11" fill="#000"/>
<rect x="745" y="204" width="1" height="9" fill="#fff"/>
<rect x="749" y="184" width="1" height="28" fill="#000"/>
<rect x="748" y="197" width="3" height="3" fill="#000"/>
<rect x="749" y="198" width="1" height="1" fill="#fff"/>
<rect x="753" y="198" width="1" height="32" fill="#000"/>
<rect x="752" y="198" width="3" height="16" fill="#000"/>
<rect x="757" y="173" width="1" height="37" fill="#000"/>
<rect x="756" y="175" width="3" height="35" fill="#000"/>
<rect x="757" y="176" width="1" height="33" fill="#fff"/>
<rect x="761" y="173" width="1" height="4" fill="#000"/>
<rect x="760" y="174" width="3" height="2" fill="#000"/>
<rect x="765" y="166" width="1" height="10" fill="#000"/>
<rect x="764" y="172" width="3" height="4" fill="#000"/>
<rect x="765" y="173" width="1" height="2" fill="#fff"/>
<rect x="769" y="163" width="1" height="17" fill="#000"/>
<rect x="768" y="169" width="3" height="2" fill="#000"/>
<rect x="773" y="170" width="1" height="15" fill="#000"/>
<rect x="772" y="170" width="3" height="2" fill="#000"/>
<rect x="777" y="165" width="1" height="24" fill="#000"/>
<rect x="776" y="170" width="3" height="15" fill="#000"/>
<rect x="781" y="184" width="1" height="19" fill="#000"/>
<rect x="780" y="184" width="3" height="3" fill="#000"/>
<rect x="781" y="185" width="1" height="1" fill="#fff"/>
<rect x="785" y="175" width="1" height="45" fill="#000"/>
<rect x="784" y="182" width="3" height="32" fill="#000"/>
<rect x="789" y="206" width="1" height="16" fill="#000"/>
<rect x="788" y="216" width="3" height="6" fill="#000"/>
<rect x="793" y="191" width="1" height="27" fill="#000"/>
<rect x="792" y="196" width="3" height="22" fill="#000"/>
<rect x="793" y="197" width="1" height="20" fill="#fff"/>
<rect x="797" y="175" width="1" height="21" fill="#000"/>
<rect x="796" y="178" width="3" height="18" fill="#000"/>
<rect x="797" y="179" width="1" height="16" fill="#fff"/>
<rect x="801" y="176" width="1" height="33" fill="#000"/>
<rect x="800" y="178" width="3" height="17" fill="#000"/>
<rect x="805" y="177" width="1" height="26" fill="#000"/>
<rect x="804" y="178" width="3" height="17" fill="#000"/>
<rect x="805" y="179" width="1" height="15" fill="#fff"/>
<rect x="809" y="162" width="1" height="29" fill="#000"/>
<rect x="808" y="175" width="3" height="11" fill="#000"/>
<rect x="813" y="176" width="1" height="34" fill="#000"/>
<rect x="812" y="184" width="3" height="15" fill="#000"/>
<rect x="817" y="179" width="1" height="22" fill="#000"/>
<rect x="816" y="187" width="3" height="9" fill="#000"/>
<rect x="817" y="188" width="1" height="7" fill="#fff"/>
<rect x="821" y="173" width="1" height="35" fill="#000"/>
<rect x="820" y="185" width="3" height="21" fill="#000"/>
<rect x="825" y="200" width="1" height="19" fill="#000"/>
<rect x="824" y="205" width="3" height="5" fill="#000"/>
<rect x="829" y="185" width="1" height="24" fill="#000"/>
<rect x="828" y="198" width="3" height="11" fill="#000"/>
<rect x="829" y="199" width="1" height="9" fill="#fff"/>
<rect x="833" y="174" width="1" height="22" fill="#000"/>
<rect x="832" y="177" width="3" height="19" fill="#000"/>
<rect x="833" y="178" width="1" height="17" fill="#fff"/>
<rect x="837" y="160" width="1" height="16" fill="#000"/>
<rect x="836" y="160" width="3" height="16" fill="#000"/>
<rect x="837" y="161" width="1" height="14" fill="#fff"/>
<rect x="841" y="150" width="1" height="12" fill="#000"/>
<rect x="840" y="152" width="3" height="6" fill="#000"/>
<rect x="841" y="153" width="1" height="4" fill="#fff"/>
<rect x="845" y="149" width="1" height="15" fill="#000"/>
<rect x="844" y="152" width="3" height="4" fill="#000"/>
<rect x="849" y="144" width="1" height="46" fill="#000"/>
<rect x="848" y="153" width="3" height="36" fill="#000"/>
<rect x="853" y="190" width="1" height="26" fill="#000"/>
<rect x="852" y="190" width="3" height="25" fill="#000"/>
<rect x="857" y="201" width="1" height="25" fill="#000"/>
<rect x="856" y="206" width="3" height="8" fill="#000"/>
<rect x="857" y="207" width="1" height="6" fill="#fff"/>
<rect x="861" y="178" width="1" height="27" fill="#000"/>
<rect x="860" y="178" width="3" height="27" fill="#000"/>
<rect x="861" y="179" width="1" height="25" fill="#fff"/>
<rect x="865" y="178" width="1" height="57" fill="#000"/>
<rect x="864" y="178" width="3" height="55" fill="#000"/>
<rect x="869" y="229" width="1" height="29" fill="#000"/>
<rect x="868" y="235" width="3" height="21" fill="#000"/>
<rect x="873" y="234" width="1" height="22" fill="#000"/>
<rect x="872" y="234" width="3" height="20" fill="#000"/>
<rect x="873" y="235" width="1" height="18" fill="#fff"/>
<rect x="877" y="216" width="1" height="38" fill="#000"/>
<rect x="876" y="218" width="3" height="16" fill="#000"/>
<rect x="877" y="219" width="1" height="14" fill="#fff"/>
<rect x="881" y="191" width="1" height="23" fill="#000"/>
<rect x="880" y="191" width="3" height="23" fill="#000"/>
<rect x="881" y="192" width="1" height="21" fill="#fff"/>
<rect x="885" y="181" width="1" height="19" fill="#000"/>
<rect x="884" y="189" width="3" height="3" fill="#000"/>
<rect x="889" y="179" width="1" height="11" fill="#000"/>
<rect x="888" y="179" width="3" height="8" fill="#000"/>
<rect x="889" y="180" width="1" height="6" fill="#fff"/>
<rect x="893" y="161" width="1" height="16" fill="#000"/>
<rect x="892" y="169" width="3" height="8" fill="#000"/>
<rect x="893" y="170" width="1" height="6" fill="#fff"/>
<rect x="897" y="168" width="1" height="8" fill="#000"/>
<rect x="896" y="169" width="3" height="6" fill="#000"/>
<rect x="901" y="162" width="1" height="19" fill="#000"/>
<rect x="900" y="165" width="3" height="4" fill="#000"/>
<rect x="905" y="170" width="1" height="26" fill="#000"/>
<rect x="904" y="170" width="3" height="21" fill="#000"/>
<rect x="909" y="173" width="1" height="35" fill="#000"/>
<rect x="908" y="183" width="3" height="4" fill="#000"/>
<rect x="909" y="184" width="1" height="2" fill="#fff"/>
<rect x="913" y="166" width="1" height="14" fill="#000"/>
<rect x="912" y="169" width="3" height="11" fill="#000"/>
<rect x="913" y="170" width="1" height="9" fill="#fff"/>
<rect x="917" y="161" width="1" height="16" fill="#000"/>
<rect x="916" y="161" width="3" height="10" fill="#000"/>
<rect x="917" y="162" width="1" height="8" fill="#fff"/>
<rect x="921" y="155" width="1" height="15" fill="#000"/>
<rect x="920" y="162" width="3" height="1" fill="#000"/>
<rect x="925" y="151" width="1" height="18" fill="#000"/>
<rect x="924" y="160" width="3" height="5" fill="#000"/>
<rect x="929" y="161" width="1" height="25" fill="#000"/>
<rect x="928" y="161" width="3" height="4" fill="#000"/>
<rect x="929" y="162" width="1" height="2" fill="#fff"/>
<rect x="933" y="163" width="1" height="21" fill="#000"/>
<rect x="932" y="163" width="3" height="21" fill="#000"/>
<rect x="937" y="170" width="1" height="26" fill="#000"/>
<rect x="936" y="170" width="3" height="14" fill="#000"/>
<rect x="937" y="171" width="1" height="12" fill="#fff"/>
<rect x="941" y="155" width="1" height="27" fill="#000"/>
<rect x="940" y="172" width="3" height="2" fill="#000"/>
<rect x="945" y="170" width="1" height="16" fill="#000"/>
<rect x="944" y="170" width="3" height="5" fill="#000"/>
<rect x="945" y="171" width="1" height="3" fill="#fff"/>
<rect x="949" y="144" width="1" height="24" fill="#000"/>
<rect x="948" y="144" width="3" height="24" fill="#000"/>
<rect x="949" y="145" width="1" height="22" fill="#fff"/>
<rect x="953" y="137" width="1" height="8" fill="#000"/>
<rect x="952" y="143" width="3" height="2" fill="#000"/>
<rect x="957" y="144" width="1" height="16" fill="#000"/>
<rect x="956" y="144" width="3" height="12" fill="#000"/>
<rect x="961" y="156" width="1" height="36" fill="#000"/>
<rect x="960" y="156" width="3" height="25" fill="#000"/>
<rect x="965" y="170" width="1" height="19" fill="#000"/>
<rect x="964" y="170" width="3" height="10" fill="#000"/>
<rect x="965" y="171" width="1" height="8" fill="#fff"/>
<rect x="969" y="159" width="1" height="19" fill="#000"/>
<rect x="968" y="159" width="3" height="14" fill="#000"/>
<rect x="969" y="160" width="1" height="12" fill="#fff"/>
<rect x="973" y="161" width="1" height="24" fill="#000"/>
<rect x="972" y="161" width="3" height="17" fill="#000"/>
<rect x="977" y="156" width="1" height="21" fill="#000"/>
<rect x="976" y="156" width="3" height="21" fill="#000"/>
<rect x="977" y="157" width="1" height="19" fill="#fff"/>
<rect x="981" y="145" width="1" height="15" fill="#000"/>
<rect x="980" y="151" width="3" height="5" fill="#000"/>
<rect x="981" y="152" width="1" height="3" fill="#fff"/>
<rect x="985" y="139" width="1" height="10" fill="#000"/>
<rect x="984" y="139" width="3" height="10" fill="#000"/>
<rect x="985" y="140" width="1" height="8" fill="#fff"/>
<rect x="989" y="123" width="1" height="14" fill="#000"/>
<rect x="988" y="123" width="3" height="14" fill="#000"/>
<rect x="989" y="124" width="1" height="12" fill="#fff"/>
<rect x="993" y="120" width="1" height="11" fill="#000"/>
<rect x="992" y="124" width="3" height="3" fill="#000"/>
<rect x="997" y="113" width="1" height="15" fill="#000"/>
<rect x="996" y="113" width="3" height="13" fill="#000"/>
<rect x="997" y="114" width="1" height="11" fill="#fff"/>
<rect x="1001" y="107" width="1" height="11" fill="#000"/>
<rect x="1000" y="109" width="3" height="3" fill="#000"/>
<rect x="1001" y="110" width="1" height="1" fill="#fff"/>
<rect x="1005" y="105" width="1" height="14" fill="#000"/>
<rect x="1004" y="108" width="3" height="2" fill="#000"/>
<rect x="1009" y="107" width="1" height="9" fill="#000"/>
<rect x="1008" y="107" width="3" height="1" fill="#000"/>
<rect x="1013" y="101" width="1" height="14" fill="#000"/>
<rect x="1012" y="102" width="3" height="6" fill="#000"/>
<rect x="1013" y="103" width="1" height="4" fill="#fff"/>
<rect x="1017" y="83" width="1" height="25" fill="#000"/>
<rect x="1016" y="85" width="3" height="17" fill="#000"/>
<rect x="1017" y="86" width="1" height="15" fill="#fff"/>
<rect x="1021" y="72" width="1" height="10" fill="#000"/>
<rect x="1020" y="72" width="3" height="10" fill="#000"/>
<rect x="1021" y="73" width="1" height="8" fill="#fff"/>
<rect x="1025" y="64" width="1" height="12" fill="#000"/>
<rect x="1024" y="71" width="3" height="2" fill="#000"/>
<rect x="1029" y="71" width="1" height="8" fill="#000"/>
<rect x="1028" y="71" width="3" height="1" fill="#000"/>
<rect x="1033" y="72" width="1" height="14" fill="#000"/>
<rect x="1032" y="72" width="3" height="7" fill="#000"/>
<rect x="1037" y="81" width="1" height="24" fill="#000"/>
<rect x="1036" y="81" width="3" height="18" fill="#000"/>
<rect x="1041" y="89" width="1" height="13" fill="#000"/>
<rect x="1040" y="90" width="3" height="9" fill="#000"/>
<rect x="1041" y="91" width="1" height="7" fill="#fff"/>
<rect x="1045" y="83" width="1" height="14" fill="#000"/>
<rect x="1044" y="88" width="3" height="5" fill="#000"/>
<rect x="1045" y="89" width="1" height="3" fill="#fff"/>
<rect x="1049" y="80" width="1" height="15" fill="#000"/>
<rect x="1048" y="81" width="3" height="9" fill="#000"/>
<rect x="1049" y="82" width="1" height="7" fill="#fff"/>
</g>
<text x="834.3" y="21.3" fill="#3333a6" font-family="Liberation Sans, sans-serif" font-size="10" text-anchor="middle" shape-rendering="auto">1 990</text>
<text x="834.3" y="62.8" fill="#3333a6" font-family="Liberation Sans, sans-serif" font-size="10" text-anchor="middle" shape-rendering="auto">1 960</text>
<text x="834.3" y="109.5" fill="#3333a6" font-family="Liberation Sans, sans-serif" font-size="10" text-anchor="middle" shape-rendering="auto">1 925</text>
<text x="861.4" y="123.1" fill="#3333a6" font-family="Liberation Sans, sans-serif" font-size="10" text-anchor="middle" shape-rendering="auto">1 915</text>
<text x="826.8" y="253.5" fill="#3333a6" font-family="Liberation Sans, sans-serif" font-size="10" text-anchor="middle" shape-rendering="auto">1 820</text>
<text x="82.0" y="315.8" fill="#3333a6" font-family="Liberation Sans, sans-serif" font-size="10" text-anchor="middle" shape-rendering="auto">1 775</text>
<text x="82.0" y="356.6" fill="#3333a6" font-family="Liberation Sans, sans-serif" font-size="10" text-anchor="middle" shape-rendering="auto">1 745</text>
<text x="82.0" y="376.6" fill="#3333a6" font-family="Liberation Sans, sans-serif" font-size="10" text-anchor="middle" shape-rendering="auto">1 730</text>
<rect x="0" y="542" width="1088" height="1" fill="#c4c4c4"/>
<rect x="1088" y="541.5" width="19" height="1.5" fill="#000"/>
<rect x="1106" y="2" width="1" height="541" fill="#000"/>
<g clip-path="url(#cd)">
<rect x="-1" y="560.7" width="1" height="28.6" fill="#1e90ff"/>
<rect x="0" y="550.8" width="1" height="38.5" fill="#ff4500"/>
<rect x="3" y="565.2" width="1" height="24.0" fill="#1e90ff"/>
<rect x="4" y="553.7" width="1" height="35.6" fill="#ff4500"/>
<rect x="7" y="572.9" width="1" height="16.3" fill="#1e90ff"/>
<rect x="8" y="557.5" width="1" height="31.7" fill="#ff4500"/>
<rect x="11" y="576.8" width="1" height="12.5" fill="#1e90ff"/>
<rect x="12" y="561.4" width="1" height="27.9" fill="#ff4500"/>
<rect x="15" y="576.4" width="1" height="12.9" fill="#1e90ff"/>
<rect x="16" y="564.4" width="1" height="24.9" fill="#ff4500"/>
<rect x="19" y="576.5" width="1" height="12.8" fill="#1e90ff"/>
<rect x="20" y="566.8" width="1" height="22.5" fill="#ff4500"/>
<rect x="23" y="579.3" width="1" height="9.9" fill="#1e90ff"/>
<rect x="24" y="569.3" width="1" height="20.0" fill="#ff4500"/>
<rect x="27" y="584.0" width="1" height="5.2" fill="#1e90ff"/>
<rect x="28" y="572.2" width="1" height="17.0" fill="#ff4500"/>
<rect x="31" y="583.7" width="1" height="5.6" fill="#1e90ff"/>
<rect x="32" y="574.5" width="1" height="14.7" fill="#ff4500"/>
<rect x="35" y="585.1" width="1" height="4.1" fill="#1e90ff"/>
<rect x="36" y="576.6" width="1" height="12.6" fill="#ff4500"/>
<rect x="39" y="584.3" width="1" height="4.9" fill="#1e90ff"/>
<rect x="40" y="578.2" width="1" height="11.1" fill="#ff4500"/>
<rect x="43" y="581.5" width="1" height="7.7" fill="#1e90ff"/>
<rect x="44" y="578.8" width="1" height="10.4" fill="#ff4500"/>
<rect x="47" y="583.3" width="1" height="5.9" fill="#1e90ff"/>
<rect x="48" y="579.7" width="1" height="9.5" fill="#ff4500"/>
<rect x="51" y="589.2" width="1" height="2.2" fill="#1e90ff"/>
<rect x="52" y="582.1" width="1" height="7.2" fill="#ff4500"/>
<rect x="55" y="589.2" width="1" height="7.8" fill="#1e90ff"/>
<rect x="56" y="585.1" width="1" height="4.2" fill="#ff4500"/>
<rect x="59" y="589.2" width="1" height="15.4" fill="#1e90ff"/>
<rect x="60" y="589.0" width="1" height="0.3" fill="#ff4500"/>
<rect x="63" y="589.2" width="1" height="18.6" fill="#1e90ff"/>
<rect x="64" y="589.2" width="1" height="3.5" fill="#ff4500"/>
<rect x="67" y="589.2" width="1" height="18.4" fill="#1e90ff"/>
<rect x="68" y="589.2" width="1" height="6.5" fill="#ff4500"/>
<rect x="71" y="589.2" width="1" height="16.5" fill="#1e90ff"/>
<rect x="72" y="589.2" width="1" height="8.5" fill="#ff4500"/>
<rect x="75" y="589.2" width="1" height="16.3" fill="#1e90ff"/>
<rect x="76" y="589.2" width="1" height="10.1" fill="#ff4500"/>
<rect x="79" y="589.2" width="1" height="14.2" fill="#1e90ff"/>
<rect x="80" y="589.2" width="1" height="10.9" fill="#ff4500"/>
<rect x="83" y="589.2" width="1" height="12.4" fill="#1e90ff"/>
<rect x="84" y="589.2" width="1" height="11.2" fill="#ff4500"/>
<rect x="87" y="589.2" width="1" height="10.7" fill="#1e90ff"/>
<rect x="88" y="589.2" width="1" height="11.1" fill="#ff4500"/>
<rect x="91" y="589.2" width="1" height="6.5" fill="#1e90ff"/>
<rect x="92" y="589.2" width="1" height="10.2" fill="#ff4500"/>
<rect x="95" y="589.2" width="1" height="1.7" fill="#1e90ff"/>
<rect x="96" y="589.2" width="1" height="8.5" fill="#ff4500"/>
<rect x="99" y="585.1" width="1" height="4.1" fill="#1e90ff"/>
<rect x="100" y="589.2" width="1" height="6.0" fill="#ff4500"/>
<rect x="103" y="580.9" width="1" height="8.3" fill="#1e90ff"/>
<rect x="104" y="589.2" width="1" height="3.1" fill="#ff4500"/>
<rect x="107" y="573.9" width="1" height="15.4" fill="#1e90ff"/>
<rect x="108" y="588.7" width="1" height="0.6" fill="#ff4500"/>
<rect x="111" y="567.5" width="1" height="21.7" fill="#1e90ff"/>
<rect x="112" y="584.4" width="1" height="4.8" fill="#ff4500"/>
<rect x="115" y="562.5" width="1" height="26.8" fill="#1e90ff"/>
<rect x="116" y="580.0" width="1" height="9.2" fill="#ff4500"/>
<rect x="119" y="559.9" width="1" height="29.4" fill="#1e90ff"/>
<rect x="120" y="576.0" width="1" height="13.2" fill="#ff4500"/>
<rect x="123" y="557.4" width="1" height="31.9" fill="#1e90ff"/>
<rect x="124" y="572.3" width="1" height="17.0" fill="#ff4500"/>
<rect x="127" y="554.5" width="1" height="34.8" fill="#1e90ff"/>
<rect x="128" y="568.7" width="1" height="20.5" fill="#ff4500"/>
<rect x="131" y="552.1" width="1" height="37.1" fill="#1e90ff"/>
<rect x="132" y="565.4" width="1" height="23.9" fill="#ff4500"/>
<rect x="135" y="550.0" width="1" height="39.3" fill="#1e90ff"/>
<rect x="136" y="562.3" width="1" height="26.9" fill="#ff4500"/>
<rect x="139" y="549.4" width="1" height="39.9" fill="#1e90ff"/>
<rect x="140" y="559.7" width="1" height="29.5" fill="#ff4500"/>
<rect x="143" y="550.5" width="1" height="38.8" fill="#1e90ff"/>
<rect x="144" y="557.9" width="1" height="31.4" fill="#ff4500"/>
<rect x="147" y="550.9" width="1" height="38.3" fill="#1e90ff"/>
<rect x="148" y="556.5" width="1" height="32.8" fill="#ff4500"/>
<rect x="151" y="551.5" width="1" height="37.7" fill="#1e90ff"/>
<rect x="152" y="555.5" width="1" height="33.7" fill="#ff4500"/>
<rect x="155" y="553.7" width="1" height="35.6" fill="#1e90ff"/>
<rect x="156" y="555.1" width="1" height="34.1" fill="#ff4500"/>
<rect x="159" y="555.6" width="1" height="33.7" fill="#1e90ff"/>
<rect x="160" y="555.2" width="1" height="34.0" fill="#ff4500"/>
<rect x="163" y="557.4" width="1" height="31.8" fill="#1e90ff"/>
<rect x="164" y="555.7" width="1" height="33.6" fill="#ff4500"/>
<rect x="167" y="555.7" width="1" height="33.5" fill="#1e90ff"/>
<rect x="168" y="555.7" width="1" height="33.6" fill="#ff4500"/>
<rect x="171" y="554.3" width="1" height="35.0" fill="#1e90ff"/>
<rect x="172" y="555.4" width="1" height="33.8" fill="#ff4500"/>
<rect x="175" y="553.7" width="1" height="35.5" fill="#1e90ff"/>
<rect x="176" y="555.1" width="1" height="34.2" fill="#ff4500"/>
<rect x="179" y="555.5" width="1" height="33.7" fill="#1e90ff"/>
<rect x="180" y="555.2" width="1" height="34.1" fill="#ff4500"/>
<rect x="183" y="558.5" width="1" height="30.8" fill="#1e90ff"/>
<rect x="184" y="555.8" width="1" height="33.4" fill="#ff4500"/>
<rect x="187" y="560.1" width="1" height="29.2" fill="#1e90ff"/>
<rect x="188" y="556.7" width="1" height="32.6" fill="#ff4500"/>
<rect x="191" y="562.7" width="1" height="26.6" fill="#1e90ff"/>
<rect x="192" y="557.9" width="1" height="31.4" fill="#ff4500"/>
<rect x="195" y="565.6" width="1" height="23.7" fill="#1e90ff"/>
<rect x="196" y="559.4" width="1" height="29.8" fill="#ff4500"/>
<rect x="199" y="566.9" width="1" height="22.3" fill="#1e90ff"/>
<rect x="200" y="560.9" width="1" height="28.3" fill="#ff4500"/>
<rect x="203" y="569.8" width="1" height="19.5" fill="#1e90ff"/>
<rect x="204" y="562.7" width="1" height="26.6" fill="#ff4500"/>
<rect x="207" y="576.3" width="1" height="13.0" fill="#1e90ff"/>
<rect x="208" y="565.4" width="1" height="23.9" fill="#ff4500"/>
<rect x="211" y="582.3" width="1" height="6.9" fill="#1e90ff"/>
<rect x="212" y="568.8" width="1" height="20.5" fill="#ff4500"/>
<rect x="215" y="588.9" width="1" height="0.4" fill="#1e90ff"/>
<rect x="216" y="572.8" width="1" height="16.4" fill="#ff4500"/>
<rect x="219" y="589.2" width="1" height="3.6" fill="#1e90ff"/>
<rect x="220" y="576.8" width="1" height="12.4" fill="#ff4500"/>
<rect x="223" y="589.2" width="1" height="8.4" fill="#1e90ff"/>
<rect x="224" y="581.0" width="1" height="8.3" fill="#ff4500"/>
<rect x="227" y="589.2" width="1" height="9.8" fill="#1e90ff"/>
<rect x="228" y="584.6" width="1" height="4.6" fill="#ff4500"/>
<rect x="231" y="589.2" width="1" height="9.5" fill="#1e90ff"/>
<rect x="232" y="587.4" width="1" height="1.8" fill="#ff4500"/>
<rect x="235" y="589.2" width="1" height="10.4" fill="#1e90ff"/>
<rect x="236" y="589.2" width="1" height="0.6" fill="#ff4500"/>
<rect x="239" y="589.2" width="1" height="15.4" fill="#1e90ff"/>
<rect x="240" y="589.2" width="1" height="3.6" fill="#ff4500"/>
<rect x="243" y="589.2" width="1" height="18.2" fill="#1e90ff"/>
<rect x="244" y="589.2" width="1" height="6.5" fill="#ff4500"/>
<rect x="247" y="589.2" width="1" height="19.6" fill="#1e90ff"/>
<rect x="248" y="589.2" width="1" height="9.1" fill="#ff4500"/>
<rect x="251" y="589.2" width="1" height="21.5" fill="#1e90ff"/>
<rect x="252" y="589.2" width="1" height="11.6" fill="#ff4500"/>
<rect x="255" y="589.2" width="1" height="21.6" fill="#1e90ff"/>
<rect x="256" y="589.2" width="1" height="13.6" fill="#ff4500"/>
<rect x="259" y="589.2" width="1" height="19.1" fill="#1e90ff"/>
<rect x="260" y="589.2" width="1" height="14.7" fill="#ff4500"/>
<rect x="263" y="589.2" width="1" height="16.5" fill="#1e90ff"/>
<rect x="264" y="589.2" width="1" height="15.0" fill="#ff4500"/>
<rect x="267" y="589.2" width="1" height="14.5" fill="#1e90ff"/>
<rect x="268" y="589.2" width="1" height="14.9" fill="#ff4500"/>
<rect x="271" y="589.2" width="1" height="10.0" fill="#1e90ff"/>
<rect x="272" y="589.2" width="1" height="14.0" fill="#ff4500"/>
<rect x="275" y="589.2" width="1" height="4.3" fill="#1e90ff"/>
<rect x="276" y="589.2" width="1" height="12.0" fill="#ff4500"/>
<rect x="279" y="588.2" width="1" height="1.1" fill="#1e90ff"/>
<rect x="280" y="589.2" width="1" height="9.4" fill="#ff4500"/>
<rect x="283" y="584.9" width="1" height="4.3" fill="#1e90ff"/>
<rect x="284" y="589.2" width="1" height="6.7" fill="#ff4500"/>
<rect x="287" y="581.7" width="1" height="7.6" fill="#1e90ff"/>
<rect x="288" y="589.2" width="1" height="3.8" fill="#ff4500"/>
<rect x="291" y="577.5" width="1" height="11.7" fill="#1e90ff"/>
<rect x="292" y="589.2" width="1" height="0.7" fill="#ff4500"/>
<rect x="295" y="573.3" width="1" height="16.0" fill="#1e90ff"/>
<rect x="296" y="586.6" width="1" height="2.6" fill="#ff4500"/>
<rect x="299" y="566.7" width="1" height="22.6" fill="#1e90ff"/>
<rect x="300" y="582.6" width="1" height="6.6" fill="#ff4500"/>
<rect x="303" y="562.3" width="1" height="26.9" fill="#1e90ff"/>
<rect x="304" y="578.6" width="1" height="10.7" fill="#ff4500"/>
<rect x="307" y="561.3" width="1" height="27.9" fill="#1e90ff"/>
<rect x="308" y="575.1" width="1" height="14.1" fill="#ff4500"/>
<rect x="311" y="562.3" width="1" height="27.0" fill="#1e90ff"/>
<rect x="312" y="572.5" width="1" height="16.7" fill="#ff4500"/>
<rect x="315" y="564.0" width="1" height="25.3" fill="#1e90ff"/>
<rect x="316" y="570.8" width="1" height="18.4" fill="#ff4500"/>
<rect x="319" y="566.4" width="1" height="22.8" fill="#1e90ff"/>
<rect x="320" y="569.9" width="1" height="19.3" fill="#ff4500"/>
<rect x="323" y="567.5" width="1" height="21.7" fill="#1e90ff"/>
<rect x="324" y="569.5" width="1" height="19.8" fill="#ff4500"/>
<rect x="327" y="569.9" width="1" height="19.4" fill="#1e90ff"/>
<rect x="328" y="569.5" width="1" height="19.7" fill="#ff4500"/>
<rect x="331" y="573.5" width="1" height="15.8" fill="#1e90ff"/>
<rect x="332" y="570.3" width="1" height="18.9" fill="#ff4500"/>
<rect x="335" y="574.1" width="1" height="15.1" fill="#1e90ff"/>
<rect x="336" y="571.1" width="1" height="18.2" fill="#ff4500"/>
<rect x="339" y="575.2" width="1" height="14.1" fill="#1e90ff"/>
<rect x="340" y="571.9" width="1" height="17.3" fill="#ff4500"/>
<rect x="343" y="578.7" width="1" height="10.6" fill="#1e90ff"/>
<rect x="344" y="573.3" width="1" height="16.0" fill="#ff4500"/>
<rect x="347" y="579.5" width="1" height="9.7" fill="#1e90ff"/>
<rect x="348" y="574.5" width="1" height="14.7" fill="#ff4500"/>
<rect x="351" y="582.7" width="1" height="6.5" fill="#1e90ff"/>
<rect x="352" y="576.2" width="1" height="13.1" fill="#ff4500"/>
<rect x="355" y="588.8" width="1" height="0.5" fill="#1e90ff"/>
<rect x="356" y="578.7" width="1" height="10.6" fill="#ff4500"/>
<rect x="359" y="589.2" width="1" height="4.0" fill="#1e90ff"/>
<rect x="360" y="581.6" width="1" height="7.6" fill="#ff4500"/>
<rect x="363" y="589.2" width="1" height="1.6" fill="#1e90ff"/>
<rect x="364" y="583.5" width="1" height="5.8" fill="#ff4500"/>
<rect x="367" y="587.2" width="1" height="2.0" fill="#1e90ff"/>
<rect x="368" y="584.2" width="1" height="5.0" fill="#ff4500"/>
<rect x="371" y="583.2" width="1" height="6.1" fill="#1e90ff"/>
<rect x="372" y="584.0" width="1" height="5.2" fill="#ff4500"/>
<rect x="375" y="582.0" width="1" height="7.2" fill="#1e90ff"/>
<rect x="376" y="583.6" width="1" height="5.6" fill="#ff4500"/>
<rect x="379" y="577.4" width="1" height="11.9" fill="#1e90ff"/>
<rect x="380" y="582.4" width="1" height="6.9" fill="#ff4500"/>
<rect x="383" y="572.0" width="1" height="17.3" fill="#1e90ff"/>
<rect x="384" y="580.3" width="1" height="9.0" fill="#ff4500"/>
<rect x="387" y="566.1" width="1" height="23.2" fill="#1e90ff"/>
<rect x="388" y="577.4" width="1" height="11.8" fill="#ff4500"/>
<rect x="391" y="561.6" width="1" height="27.7" fill="#1e90ff"/>
<rect x="392" y="574.3" width="1" height="15.0" fill="#ff4500"/>
<rect x="395" y="556.8" width="1" height="32.4" fill="#1e90ff"/>
<rect x="396" y="570.8" width="1" height="18.5" fill="#ff4500"/>
<rect x="399" y="554.8" width="1" height="34.4" fill="#1e90ff"/>
<rect x="400" y="567.6" width="1" height="21.7" fill="#ff4500"/>
<rect x="403" y="552.8" width="1" height="36.4" fill="#1e90ff"/>
<rect x="404" y="564.6" width="1" height="24.6" fill="#ff4500"/>
<rect x="407" y="550.3" width="1" height="39.0" fill="#1e90ff"/>
<rect x="408" y="561.8" width="1" height="27.5" fill="#ff4500"/>
<rect x="411" y="548.4" width="1" height="40.9" fill="#1e90ff"/>
<rect x="412" y="559.1" width="1" height="30.2" fill="#ff4500"/>
<rect x="415" y="545.7" width="1" height="43.5" fill="#1e90ff"/>
<rect x="416" y="556.4" width="1" height="32.8" fill="#ff4500"/>
<rect x="419" y="545.5" width="1" height="43.7" fill="#1e90ff"/>
<rect x="420" y="554.2" width="1" height="35.0" fill="#ff4500"/>
<rect x="423" y="547.0" width="1" height="42.2" fill="#1e90ff"/>
<rect x="424" y="552.8" width="1" height="36.5" fill="#ff4500"/>
<rect x="427" y="548.3" width="1" height="40.9" fill="#1e90ff"/>
<rect x="428" y="551.9" width="1" height="37.4" fill="#ff4500"/>
<rect x="431" y="548.2" width="1" height="41.0" fill="#1e90ff"/>
<rect x="432" y="551.2" width="1" height="38.1" fill="#ff4500"/>
<rect x="435" y="549.6" width="1" height="39.7" fill="#1e90ff"/>
<rect x="436" y="550.8" width="1" height="38.4" fill="#ff4500"/>
<rect x="439" y="549.6" width="1" height="39.6" fill="#1e90ff"/>
<rect x="440" y="550.6" width="1" height="38.7" fill="#ff4500"/>
<rect x="443" y="554.2" width="1" height="35.1" fill="#1e90ff"/>
<rect x="444" y="551.3" width="1" height="37.9" fill="#ff4500"/>
<rect x="447" y="554.2" width="1" height="35.1" fill="#1e90ff"/>
<rect x="448" y="551.9" width="1" height="37.4" fill="#ff4500"/>
<rect x="451" y="554.3" width="1" height="35.0" fill="#1e90ff"/>
<rect x="452" y="552.4" width="1" height="36.9" fill="#ff4500"/>
<rect x="455" y="555.6" width="1" height="33.6" fill="#1e90ff"/>
<rect x="456" y="553.0" width="1" height="36.2" fill="#ff4500"/>
<rect x="459" y="554.5" width="1" height="34.7" fill="#1e90ff"/>
<rect x="460" y="553.3" width="1" height="35.9" fill="#ff4500"/>
<rect x="463" y="552.7" width="1" height="36.6" fill="#1e90ff"/>
<rect x="464" y="553.2" width="1" height="36.1" fill="#ff4500"/>
<rect x="467" y="550.4" width="1" height="38.9" fill="#1e90ff"/>
<rect x="468" y="552.6" width="1" height="36.6" fill="#ff4500"/>
<rect x="471" y="550.1" width="1" height="39.1" fill="#1e90ff"/>
<rect x="472" y="552.1" width="1" height="37.1" fill="#ff4500"/>
<rect x="475" y="551.0" width="1" height="38.2" fill="#1e90ff"/>
<rect x="476" y="551.9" width="1" height="37.4" fill="#ff4500"/>
<rect x="479" y="553.2" width="1" height="36.0" fill="#1e90ff"/>
<rect x="480" y="552.2" width="1" height="37.1" fill="#ff4500"/>
<rect x="483" y="552.9" width="1" height="36.3" fill="#1e90ff"/>
<rect x="484" y="552.3" width="1" height="36.9" fill="#ff4500"/>
<rect x="487" y="551.7" width="1" height="37.6" fill="#1e90ff"/>
<rect x="488" y="552.2" width="1" height="37.1" fill="#ff4500"/>
<rect x="491" y="551.7" width="1" height="37.6" fill="#1e90ff"/>
<rect x="492" y="552.1" width="1" height="37.2" fill="#ff4500"/>
<rect x="495" y="552.0" width="1" height="37.3" fill="#1e90ff"/>
<rect x="496" y="552.1" width="1" height="37.2" fill="#ff4500"/>
<rect x="499" y="551.8" width="1" height="37.4" fill="#1e90ff"/>
<rect x="500" y="552.0" width="1" height="37.2" fill="#ff4500"/>
<rect x="503" y="552.5" width="1" height="36.8" fill="#1e90ff"/>
<rect x="504" y="552.1" width="1" height="37.1" fill="#ff4500"/>
<rect x="507" y="554.1" width="1" height="35.2" fill="#1e90ff"/>
<rect x="508" y="552.5" width="1" height="36.7" fill="#ff4500"/>
<rect x="511" y="556.8" width="1" height="32.5" fill="#1e90ff"/>
<rect x="512" y="553.4" width="1" height="35.9" fill="#ff4500"/>
<rect x="515" y="559.5" width="1" height="29.8" fill="#1e90ff"/>
<rect x="516" y="554.6" width="1" height="34.7" fill="#ff4500"/>
<rect x="519" y="563.4" width="1" height="25.8" fill="#1e90ff"/>
<rect x="520" y="556.3" width="1" height="32.9" fill="#ff4500"/>
<rect x="523" y="563.3" width="1" height="25.9" fill="#1e90ff"/>
<rect x="524" y="557.7" width="1" height="31.5" fill="#ff4500"/>
<rect x="527" y="563.0" width="1" height="26.3" fill="#1e90ff"/>
<rect x="528" y="558.8" width="1" height="30.5" fill="#ff4500"/>
<rect x="531" y="564.1" width="1" height="25.2" fill="#1e90ff"/>
<rect x="532" y="559.8" width="1" height="29.4" fill="#ff4500"/>
<rect x="535" y="568.6" width="1" height="20.6" fill="#1e90ff"/>
<rect x="536" y="561.6" width="1" height="27.6" fill="#ff4500"/>
<rect x="539" y="573.4" width="1" height="15.8" fill="#1e90ff"/>
<rect x="540" y="564.0" width="1" height="25.3" fill="#ff4500"/>
<rect x="543" y="577.5" width="1" height="11.7" fill="#1e90ff"/>
<rect x="544" y="566.7" width="1" height="22.6" fill="#ff4500"/>
<rect x="547" y="579.0" width="1" height="10.3" fill="#1e90ff"/>
<rect x="548" y="569.1" width="1" height="20.1" fill="#ff4500"/>
<rect x="551" y="581.2" width="1" height="8.0" fill="#1e90ff"/>
<rect x="552" y="571.5" width="1" height="17.7" fill="#ff4500"/>
<rect x="555" y="578.0" width="1" height="11.3" fill="#1e90ff"/>
<rect x="556" y="572.8" width="1" height="16.4" fill="#ff4500"/>
<rect x="559" y="575.7" width="1" height="13.6" fill="#1e90ff"/>
<rect x="560" y="573.4" width="1" height="15.8" fill="#ff4500"/>
<rect x="563" y="572.6" width="1" height="16.6" fill="#1e90ff"/>
<rect x="564" y="573.2" width="1" height="16.0" fill="#ff4500"/>
<rect x="567" y="568.8" width="1" height="20.4" fill="#1e90ff"/>
<rect x="568" y="572.4" width="1" height="16.9" fill="#ff4500"/>
<rect x="571" y="565.3" width="1" height="24.0" fill="#1e90ff"/>
<rect x="572" y="570.9" width="1" height="18.3" fill="#ff4500"/>
<rect x="575" y="561.3" width="1" height="28.0" fill="#1e90ff"/>
<rect x="576" y="569.0" width="1" height="20.2" fill="#ff4500"/>
<rect x="579" y="558.6" width="1" height="30.6" fill="#1e90ff"/>
<rect x="580" y="566.9" width="1" height="22.3" fill="#ff4500"/>
<rect x="583" y="557.1" width="1" height="32.1" fill="#1e90ff"/>
<rect x="584" y="565.0" width="1" height="24.3" fill="#ff4500"/>
<rect x="587" y="554.9" width="1" height="34.3" fill="#1e90ff"/>
<rect x="588" y="563.0" width="1" height="26.3" fill="#ff4500"/>
<rect x="591" y="556.4" width="1" height="32.9" fill="#1e90ff"/>
<rect x="592" y="561.7" width="1" height="27.6" fill="#ff4500"/>
<rect x="595" y="557.9" width="1" height="31.3" fill="#1e90ff"/>
<rect x="596" y="560.9" width="1" height="28.3" fill="#ff4500"/>
<rect x="599" y="560.2" width="1" height="29.0" fill="#1e90ff"/>
<rect x="600" y="560.8" width="1" height="28.5" fill="#ff4500"/>
<rect x="603" y="560.6" width="1" height="28.7" fill="#1e90ff"/>
<rect x="604" y="560.7" width="1" height="28.5" fill="#ff4500"/>
<rect x="607" y="561.1" width="1" height="28.1" fill="#1e90ff"/>
<rect x="608" y="560.8" width="1" height="28.4" fill="#ff4500"/>
<rect x="612" y="561.9" width="1" height="27.3" fill="#1e90ff"/>
<rect x="613" y="561.0" width="1" height="28.2" fill="#ff4500"/>
<rect x="616" y="562.1" width="1" height="27.1" fill="#1e90ff"/>
<rect x="617" y="561.2" width="1" height="28.0" fill="#ff4500"/>
<rect x="620" y="566.2" width="1" height="23.1" fill="#1e90ff"/>
<rect x="621" y="562.2" width="1" height="27.0" fill="#ff4500"/>
<rect x="624" y="566.5" width="1" height="22.8" fill="#1e90ff"/>
<rect x="625" y="563.1" width="1" height="26.2" fill="#ff4500"/>
<rect x="628" y="565.6" width="1" height="23.7" fill="#1e90ff"/>
<rect x="629" y="563.6" width="1" height="25.7" fill="#ff4500"/>
<rect x="632" y="565.5" width="1" height="23.8" fill="#1e90ff"/>
<rect x="633" y="564.0" width="1" height="25.3" fill="#ff4500"/>
<rect x="636" y="566.9" width="1" height="22.3" fill="#1e90ff"/>
<rect x="637" y="564.5" width="1" height="24.7" fill="#ff4500"/>
<rect x="640" y="567.4" width="1" height="21.8" fill="#1e90ff"/>
<rect x="641" y="565.1" width="1" height="24.1" fill="#ff4500"/>
<rect x="644" y="567.7" width="1" height="21.6" fill="#1e90ff"/>
<rect x="645" y="565.6" width="1" height="23.6" fill="#ff4500"/>
<rect x="648" y="570.9" width="1" height="18.3" fill="#1e90ff"/>
<rect x="649" y="566.7" width="1" height="22.6" fill="#ff4500"/>
<rect x="652" y="580.0" width="1" height="9.2" fill="#1e90ff"/>
<rect x="653" y="569.4" width="1" height="19.9" fill="#ff4500"/>
<rect x="656" y="588.9" width="1" height="0.4" fill="#1e90ff"/>
<rect x="657" y="573.3" width="1" height="16.0" fill="#ff4500"/>
<rect x="660" y="589.2" width="1" height="4.6" fill="#1e90ff"/>
<rect x="661" y="577.4" width="1" height="11.9" fill="#ff4500"/>
<rect x="664" y="589.2" width="1" height="11.6" fill="#1e90ff"/>
<rect x="665" y="582.1" width="1" height="7.2" fill="#ff4500"/>
<rect x="668" y="589.2" width="1" height="13.5" fill="#1e90ff"/>
<rect x="669" y="586.2" width="1" height="3.0" fill="#ff4500"/>
<rect x="672" y="589.2" width="1" height="16.8" fill="#1e90ff"/>
<rect x="673" y="589.2" width="1" height="0.9" fill="#ff4500"/>
<rect x="676" y="589.2" width="1" height="26.2" fill="#1e90ff"/>
<rect x="677" y="589.2" width="1" height="6.0" fill="#ff4500"/>
<rect x="680" y="589.2" width="1" height="30.8" fill="#1e90ff"/>
<rect x="681" y="589.2" width="1" height="10.9" fill="#ff4500"/>
<rect x="684" y="589.2" width="1" height="34.7" fill="#1e90ff"/>
<rect x="685" y="589.2" width="1" height="15.7" fill="#ff4500"/>
<rect x="688" y="589.2" width="1" height="33.6" fill="#1e90ff"/>
<rect x="689" y="589.2" width="1" height="19.3" fill="#ff4500"/>
<rect x="692" y="589.2" width="1" height="28.6" fill="#1e90ff"/>
<rect x="693" y="589.2" width="1" height="21.2" fill="#ff4500"/>
<rect x="696" y="589.2" width="1" height="24.0" fill="#1e90ff"/>
<rect x="697" y="589.2" width="1" height="21.7" fill="#ff4500"/>
<rect x="700" y="589.2" width="1" height="16.2" fill="#1e90ff"/>
<rect x="701" y="589.2" width="1" height="20.6" fill="#ff4500"/>
<rect x="704" y="589.2" width="1" height="9.2" fill="#1e90ff"/>
<rect x="705" y="589.2" width="1" height="18.3" fill="#ff4500"/>
<rect x="708" y="589.2" width="1" height="3.1" fill="#1e90ff"/>
<rect x="709" y="589.2" width="1" height="15.3" fill="#ff4500"/>
<rect x="712" y="586.0" width="1" height="3.2" fill="#1e90ff"/>
<rect x="713" y="589.2" width="1" height="11.6" fill="#ff4500"/>
<rect x="716" y="580.7" width="1" height="8.5" fill="#1e90ff"/>
<rect x="717" y="589.2" width="1" height="7.6" fill="#ff4500"/>
<rect x="720" y="578.8" width="1" height="10.5" fill="#1e90ff"/>
<rect x="721" y="589.2" width="1" height="3.9" fill="#ff4500"/>
<rect x="724" y="575.6" width="1" height="13.7" fill="#1e90ff"/>
<rect x="725" y="589.2" width="1" height="0.4" fill="#ff4500"/>
<rect x="728" y="573.8" width="1" height="15.5" fill="#1e90ff"/>
<rect x="729" y="586.5" width="1" height="2.8" fill="#ff4500"/>
<rect x="732" y="570.7" width="1" height="18.6" fill="#1e90ff"/>
<rect x="733" y="583.3" width="1" height="5.9" fill="#ff4500"/>
<rect x="736" y="568.9" width="1" height="20.4" fill="#1e90ff"/>
<rect x="737" y="580.4" width="1" height="8.8" fill="#ff4500"/>
<rect x="740" y="567.4" width="1" height="21.9" fill="#1e90ff"/>
<rect x="741" y="577.8" width="1" height="11.4" fill="#ff4500"/>
<rect x="744" y="565.3" width="1" height="24.0" fill="#1e90ff"/>
<rect x="745" y="575.3" width="1" height="13.9" fill="#ff4500"/>
<rect x="748" y="563.2" width="1" height="26.1" fill="#1e90ff"/>
<rect x="749" y="572.9" width="1" height="16.4" fill="#ff4500"/>
<rect x="752" y="563.9" width="1" height="25.3" fill="#1e90ff"/>
<rect x="753" y="571.1" width="1" height="18.2" fill="#ff4500"/>
<rect x="756" y="560.0" width="1" height="29.2" fill="#1e90ff"/>
<rect x="757" y="568.9" width="1" height="20.4" fill="#ff4500"/>
<rect x="760" y="557.2" width="1" height="32.1" fill="#1e90ff"/>
<rect x="761" y="566.5" width="1" height="22.7" fill="#ff4500"/>
<rect x="764" y="555.0" width="1" height="34.2" fill="#1e90ff"/>
<rect x="765" y="564.2" width="1" height="25.0" fill="#ff4500"/>
<rect x="768" y="553.7" width="1" height="35.6" fill="#1e90ff"/>
<rect x="769" y="562.1" width="1" height="27.1" fill="#ff4500"/>
<rect x="772" y="552.9" width="1" height="36.3" fill="#1e90ff"/>
<rect x="773" y="560.3" width="1" height="29.0" fill="#ff4500"/>
<rect x="776" y="554.5" width="1" height="34.8" fill="#1e90ff"/>
<rect x="777" y="559.1" width="1" height="30.1" fill="#ff4500"/>
<rect x="780" y="556.0" width="1" height="33.2" fill="#1e90ff"/>
<rect x="781" y="558.5" width="1" height="30.7" fill="#ff4500"/>
<rect x="784" y="561.2" width="1" height="28.1" fill="#1e90ff"/>
<rect x="785" y="559.0" width="1" height="30.2" fill="#ff4500"/>
<rect x="788" y="566.5" width="1" height="22.7" fill="#1e90ff"/>
<rect x="789" y="560.5" width="1" height="28.7" fill="#ff4500"/>
<rect x="792" y="567.9" width="1" height="21.4" fill="#1e90ff"/>
<rect x="793" y="562.0" width="1" height="27.2" fill="#ff4500"/>
<rect x="796" y="567.0" width="1" height="22.2" fill="#1e90ff"/>
<rect x="797" y="563.0" width="1" height="26.2" fill="#ff4500"/>
<rect x="800" y="568.6" width="1" height="20.6" fill="#1e90ff"/>
<rect x="801" y="564.1" width="1" height="25.1" fill="#ff4500"/>
<rect x="804" y="568.1" width="1" height="21.2" fill="#1e90ff"/>
<rect x="805" y="564.9" width="1" height="24.3" fill="#ff4500"/>
<rect x="808" y="568.9" width="1" height="20.4" fill="#1e90ff"/>
<rect x="809" y="565.7" width="1" height="23.5" fill="#ff4500"/>
<rect x="812" y="571.3" width="1" height="18.0" fill="#1e90ff"/>
<rect x="813" y="566.8" width="1" height="22.4" fill="#ff4500"/>
<rect x="816" y="571.9" width="1" height="17.4" fill="#1e90ff"/>
<rect x="817" y="567.8" width="1" height="21.4" fill="#ff4500"/>
<rect x="820" y="574.8" width="1" height="14.4" fill="#1e90ff"/>
<rect x="821" y="569.2" width="1" height="20.0" fill="#ff4500"/>
<rect x="824" y="577.9" width="1" height="11.4" fill="#1e90ff"/>
<rect x="825" y="571.0" width="1" height="18.3" fill="#ff4500"/>
<rect x="828" y="578.9" width="1" height="10.4" fill="#1e90ff"/>
<rect x="829" y="572.5" width="1" height="16.7" fill="#ff4500"/>
<rect x="832" y="577.3" width="1" height="12.0" fill="#1e90ff"/>
<rect x="833" y="573.5" width="1" height="15.8" fill="#ff4500"/>
<rect x="836" y="574.1" width="1" height="15.2" fill="#1e90ff"/>
<rect x="837" y="573.6" width="1" height="15.6" fill="#ff4500"/>
<rect x="840" y="570.9" width="1" height="18.4" fill="#1e90ff"/>
<rect x="841" y="573.1" width="1" height="16.2" fill="#ff4500"/>
<rect x="844" y="568.9" width="1" height="20.3" fill="#1e90ff"/>
<rect x="845" y="572.2" width="1" height="17.0" fill="#ff4500"/>
<rect x="848" y="571.7" width="1" height="17.6" fill="#1e90ff"/>
<rect x="849" y="572.1" width="1" height="17.1" fill="#ff4500"/>
<rect x="852" y="577.2" width="1" height="12.1" fill="#1e90ff"/>
<rect x="853" y="573.1" width="1" height="16.1" fill="#ff4500"/>
<rect x="856" y="580.6" width="1" height="8.7" fill="#1e90ff"/>
<rect x="857" y="574.6" width="1" height="14.6" fill="#ff4500"/>
<rect x="860" y="579.9" width="1" height="9.4" fill="#1e90ff"/>
<rect x="861" y="575.7" width="1" height="13.6" fill="#ff4500"/>
<rect x="864" y="586.2" width="1" height="3.1" fill="#1e90ff"/>
<rect x="865" y="577.8" width="1" height="11.5" fill="#ff4500"/>
<rect x="868" y="589.2" width="1" height="4.6" fill="#1e90ff"/>
<rect x="869" y="581.0" width="1" height="8.3" fill="#ff4500"/>
<rect x="872" y="589.2" width="1" height="8.0" fill="#1e90ff"/>
<rect x="873" y="584.2" width="1" height="5.0" fill="#ff4500"/>
<rect x="876" y="589.2" width="1" height="8.6" fill="#1e90ff"/>
<rect x="877" y="587.0" width="1" height="2.3" fill="#ff4500"/>
<rect x="880" y="589.2" width="1" height="5.7" fill="#1e90ff"/>
<rect x="881" y="588.6" width="1" height="0.7" fill="#ff4500"/>
<rect x="884" y="589.2" width="1" height="3.5" fill="#1e90ff"/>
<rect x="885" y="589.2" width="1" height="0.1" fill="#ff4500"/>
<rect x="888" y="589.2" width="1" height="0.1" fill="#1e90ff"/>
<rect x="889" y="589.2" width="1" height="0.1" fill="#ff4500"/>
<rect x="892" y="585.4" width="1" height="3.8" fill="#1e90ff"/>
<rect x="893" y="588.6" width="1" height="0.7" fill="#ff4500"/>
<rect x="896" y="583.2" width="1" height="6.1" fill="#1e90ff"/>
<rect x="897" y="587.5" width="1" height="1.7" fill="#ff4500"/>
<rect x="900" y="580.8" width="1" height="8.4" fill="#1e90ff"/>
<rect x="901" y="586.2" width="1" height="3.1" fill="#ff4500"/>
<rect x="904" y="581.7" width="1" height="7.6" fill="#1e90ff"/>
<rect x="905" y="585.3" width="1" height="4.0" fill="#ff4500"/>
<rect x="908" y="581.4" width="1" height="7.8" fill="#1e90ff"/>
<rect x="909" y="584.5" width="1" height="4.8" fill="#ff4500"/>
<rect x="912" y="579.7" width="1" height="9.5" fill="#1e90ff"/>
<rect x="913" y="583.5" width="1" height="5.7" fill="#ff4500"/>
<rect x="916" y="577.5" width="1" height="11.7" fill="#1e90ff"/>
<rect x="917" y="582.3" width="1" height="6.9" fill="#ff4500"/>
<rect x="920" y="576.0" width="1" height="13.3" fill="#1e90ff"/>
<rect x="921" y="581.1" width="1" height="8.2" fill="#ff4500"/>
<rect x="924" y="575.3" width="1" height="13.9" fill="#1e90ff"/>
<rect x="925" y="579.9" width="1" height="9.3" fill="#ff4500"/>
<rect x="928" y="574.5" width="1" height="14.8" fill="#1e90ff"/>
<rect x="929" y="578.8" width="1" height="10.4" fill="#ff4500"/>
<rect x="932" y="576.8" width="1" height="12.5" fill="#1e90ff"/>
<rect x="933" y="578.4" width="1" height="10.8" fill="#ff4500"/>
<rect x="936" y="576.9" width="1" height="12.3" fill="#1e90ff"/>
<rect x="937" y="578.1" width="1" height="11.1" fill="#ff4500"/>
<rect x="940" y="577.8" width="1" height="11.5" fill="#1e90ff"/>
<rect x="941" y="578.1" width="1" height="11.2" fill="#ff4500"/>
<rect x="944" y="578.0" width="1" height="11.2" fill="#1e90ff"/>
<rect x="945" y="578.0" width="1" height="11.2" fill="#ff4500"/>
<rect x="948" y="575.2" width="1" height="14.0" fill="#1e90ff"/>
<rect x="949" y="577.5" width="1" height="11.8" fill="#ff4500"/>
<rect x="952" y="573.3" width="1" height="15.9" fill="#1e90ff"/>
<rect x="953" y="576.6" width="1" height="12.6" fill="#ff4500"/>
<rect x="956" y="573.4" width="1" height="15.9" fill="#1e90ff"/>
<rect x="957" y="576.0" width="1" height="13.3" fill="#ff4500"/>
<rect x="960" y="576.6" width="1" height="12.7" fill="#1e90ff"/>
<rect x="961" y="576.1" width="1" height="13.1" fill="#ff4500"/>
<rect x="964" y="577.9" width="1" height="11.3" fill="#1e90ff"/>
<rect x="965" y="576.5" width="1" height="12.8" fill="#ff4500"/>
<rect x="968" y="577.8" width="1" height="11.4" fill="#1e90ff"/>
<rect x="969" y="576.7" width="1" height="12.5" fill="#ff4500"/>
<rect x="972" y="580.1" width="1" height="9.2" fill="#1e90ff"/>
<rect x="973" y="577.4" width="1" height="11.8" fill="#ff4500"/>
<rect x="976" y="579.3" width="1" height="9.9" fill="#1e90ff"/>
<rect x="977" y="577.8" width="1" height="11.5" fill="#ff4500"/>
<rect x="980" y="578.2" width="1" height="11.0" fill="#1e90ff"/>
<rect x="981" y="577.9" width="1" height="11.4" fill="#ff4500"/>
<rect x="984" y="576.1" width="1" height="13.1" fill="#1e90ff"/>
<rect x="985" y="577.5" width="1" height="11.7" fill="#ff4500"/>
<rect x="988" y="572.7" width="1" height="16.6" fill="#1e90ff"/>
<rect x="989" y="576.6" width="1" height="12.7" fill="#ff4500"/>
<rect x="992" y="570.6" width="1" height="18.7" fill="#1e90ff"/>
<rect x="993" y="575.4" width="1" height="13.9" fill="#ff4500"/>
<rect x="996" y="567.5" width="1" height="21.7" fill="#1e90ff"/>
<rect x="997" y="573.8" width="1" height="15.5" fill="#ff4500"/>
<rect x="1000" y="564.8" width="1" height="24.4" fill="#1e90ff"/>
<rect x="1001" y="572.0" width="1" height="17.2" fill="#ff4500"/>
<rect x="1004" y="562.8" width="1" height="26.4" fill="#1e90ff"/>
<rect x="1005" y="570.2" width="1" height="19.1" fill="#ff4500"/>
<rect x="1008" y="561.7" width="1" height="27.6" fill="#1e90ff"/>
<rect x="1009" y="568.5" width="1" height="20.8" fill="#ff4500"/>
<rect x="1012" y="560.3" width="1" height="28.9" fill="#1e90ff"/>
<rect x="1013" y="566.8" width="1" height="22.4" fill="#ff4500"/>
<rect x="1016" y="557.6" width="1" height="31.7" fill="#1e90ff"/>
<rect x="1017" y="565.0" width="1" height="24.3" fill="#ff4500"/>
<rect x="1020" y="554.2" width="1" height="35.1" fill="#1e90ff"/>
<rect x="1021" y="562.8" width="1" height="26.4" fill="#ff4500"/>
<rect x="1024" y="551.8" width="1" height="37.5" fill="#1e90ff"/>
<rect x="1025" y="560.6" width="1" height="28.6" fill="#ff4500"/>
<rect x="1028" y="550.4" width="1" height="38.8" fill="#1e90ff"/>
<rect x="1029" y="558.6" width="1" height="30.7" fill="#ff4500"/>
<rect x="1032" y="550.7" width="1" height="38.5" fill="#1e90ff"/>
<rect x="1033" y="557.0" width="1" height="32.2" fill="#ff4500"/>
<rect x="1036" y="553.8" width="1" height="35.4" fill="#1e90ff"/>
<rect x="1037" y="556.4" width="1" height="32.9" fill="#ff4500"/>
<rect x="1040" y="555.5" width="1" height="33.7" fill="#1e90ff"/>
<rect x="1041" y="556.2" width="1" height="33.1" fill="#ff4500"/>
<rect x="1044" y="557.0" width="1" height="32.2" fill="#1e90ff"/>
<rect x="1045" y="556.4" width="1" height="32.9" fill="#ff4500"/>
<rect x="1048" y="557.7" width="1" height="31.5" fill="#1e90ff"/>
<rect x="1049" y="556.6" width="1" height="32.6" fill="#ff4500"/>
</g>
<rect x="0" y="588.5" width="1106" height="1.5" fill="#3c8cc8"/>
<rect x="0" y="626" width="1107" height="1" fill="#c4c4c4"/>
<rect x="0" y="646" width="1106" height="1" fill="#404040"/>
<rect x="0" y="654" width="1106" height="1" fill="#404040"/>
<rect x="0" y="686" width="1106" height="1" fill="#404040"/>
<rect x="0" y="694" width="1106" height="1" fill="#404040"/>
<g clip-path="url(#cr)"><polyline points="0.3,667.3 4.3,670.3 8.3,676.7 12.3,672.3 16.3,666.7 20.3,667.2 24.3,671.6 28.3,675.0 32.3,668.6 36.3,671.1 40.3,668.2 44.4,665.2 48.4,671.1 52.4,678.7 56.4,677.6 60.4,680.8 64.4,677.1 68.4,673.6 72.4,671.5 76.4,673.3 80.4,670.9 84.4,671.0 88.4,670.7 92.4,666.7 96.4,664.9 100.4,662.3 104.4,662.9 108.4,658.3 112.4,657.3 116.4,657.0 120.4,659.3 124.4,658.3 128.4,656.7 132.5,656.1 136.5,655.2 140.5,657.0 144.5,660.0 148.5,658.6 152.5,658.4 156.5,661.8 160.5,661.6 164.5,661.6 168.5,655.4 172.5,654.7 176.5,655.3 180.5,661.3 184.5,664.6 188.5,662.4 192.5,665.5 196.5,666.9 200.5,664.2 204.5,668.6 208.5,677.4 212.5,679.0 216.5,681.8 220.6,678.8 224.6,681.6 228.6,675.6 232.6,672.8 236.6,675.1 240.6,682.1 244.6,679.9 248.6,678.6 252.6,680.2 256.6,677.2 260.6,672.1 264.6,671.1 268.6,671.7 272.6,665.8 276.6,662.3 280.6,661.0 284.6,663.3 288.6,662.0 292.6,659.3 296.6,657.4 300.6,653.0 304.6,654.6 308.7,660.3 312.7,663.6 316.7,665.2 320.7,667.2 324.7,665.1 328.7,668.0 332.7,671.6 336.7,666.6 340.7,667.5 344.7,672.9 348.7,668.8 352.7,673.4 356.7,679.0 360.7,678.3 364.7,667.7 368.7,665.1 372.7,663.5 376.7,667.0 380.7,661.9 384.7,659.7 388.7,657.7 392.8,657.5 396.8,655.9 400.8,658.8 404.8,657.8 408.8,656.2 412.8,655.8 416.8,653.8 420.8,657.5 424.8,660.2 428.8,659.8 432.8,657.4 436.8,660.0 440.8,657.8 444.8,667.3 448.8,661.4 452.8,661.0 456.8,662.8 460.8,659.3 464.8,657.6 468.8,656.0 472.8,658.7 476.8,660.3 480.9,663.0 484.9,659.2 488.9,657.3 492.9,658.8 496.9,658.5 500.9,657.3 504.9,658.3 508.9,660.4 512.9,663.4 516.9,664.1 520.9,668.4 524.9,661.2 528.9,660.2 532.9,663.3 536.9,671.4 540.9,673.4 544.9,673.8 548.9,669.4 552.9,671.6 556.9,662.0 560.9,662.3 564.9,660.1 569.0,657.7 573.0,656.6 577.0,654.6 581.0,655.2 585.0,655.8 589.0,653.8 593.0,662.0 597.0,662.0 601.0,664.1 605.0,660.8 609.0,660.6 613.0,661.0 617.0,659.3 621.0,669.7 625.0,663.4 629.0,661.0 633.0,661.8 637.0,665.3 641.0,663.5 645.0,662.7 649.0,669.9 653.0,680.9 657.1,682.9 661.1,678.7 665.1,682.6 669.1,675.9 673.1,678.4 677.1,685.6 681.1,681.4 685.1,682.0 689.1,675.9 693.1,670.7 697.1,670.2 701.1,665.4 705.1,664.6 709.1,664.0 713.1,662.2 717.1,661.8 721.1,665.5 725.1,663.2 729.1,664.3 733.1,661.8 737.1,662.6 741.2,662.1 745.2,660.4 749.2,659.4 753.2,664.3 757.2,657.8 761.2,657.7 765.2,657.3 769.2,657.2 773.2,657.1 777.2,661.9 781.2,661.7 785.2,670.2 789.2,672.1 793.2,666.2 797.2,662.7 801.2,666.9 805.2,663.7 809.2,665.7 813.2,668.8 817.2,666.3 821.2,670.7 825.2,671.7 829.3,668.8 833.3,664.6 837.3,661.4 841.3,660.2 845.3,661.1 849.3,669.5 853.3,674.8 857.3,672.7 861.3,667.2 865.3,676.6 869.3,679.6 873.3,675.5 877.3,672.7 881.3,668.4 885.3,668.5 889.3,666.4 893.3,664.9 897.3,666.1 901.3,665.2 905.3,669.6 909.3,668.1 913.3,665.7 917.4,664.3 921.4,664.3 925.4,665.3 929.4,664.4 933.4,670.3 937.4,667.1 941.4,668.3 945.4,667.2 949.4,662.0 953.4,662.2 957.4,665.5 961.4,671.6 965.4,669.1 969.4,666.8 973.4,671.1 977.4,666.5 981.4,665.4 985.4,663.2 989.4,660.3 993.4,661.3 997.4,658.9 1001.4,658.1 1005.5,657.8 1009.5,658.2 1013.5,656.9 1017.5,653.8 1021.5,651.8 1025.5,651.5 1029.5,652.1 1033.5,655.4 1037.5,663.2 1041.5,661.1 1045.5,660.6 1049.5,659.0" fill="none" stroke="#000" stroke-width="2" shape-rendering="auto" stroke-linejoin="round"/></g>
<rect x="1106" y="543" width="1" height="173" fill="#b4b4b4"/>
<rect x="0" y="715" width="1107" height="1" fill="#d0d0d0"/>
<rect x="0" y="716" width="1" height="3" fill="#909090"/>
<rect x="20" y="716" width="1" height="3" fill="#909090"/>
<rect x="40" y="716" width="1" height="3" fill="#909090"/>
<rect x="60" y="716" width="1" height="3" fill="#909090"/>
<rect x="80" y="716" width="1" height="3" fill="#909090"/>
<rect x="96" y="716" width="1" height="3" fill="#909090"/>
<rect x="116" y="716" width="1" height="3" fill="#909090"/>
<rect x="136" y="716" width="1" height="3" fill="#909090"/>
<rect x="156" y="716" width="1" height="3" fill="#909090"/>
<rect x="168" y="716" width="1" height="3" fill="#909090"/>
<rect x="176" y="716" width="1" height="3" fill="#909090"/>
<rect x="196" y="716" width="1" height="3" fill="#909090"/>
<rect x="216" y="716" width="1" height="3" fill="#909090"/>
<rect x="236" y="716" width="1" height="3" fill="#909090"/>
<rect x="256" y="716" width="1" height="3" fill="#909090"/>
<rect x="272" y="716" width="1" height="3" fill="#909090"/>
<rect x="292" y="716" width="1" height="3" fill="#909090"/>
<rect x="312" y="716" width="1" height="3" fill="#909090"/>
<rect x="332" y="716" width="1" height="3" fill="#909090"/>
<rect x="336" y="716" width="1" height="3" fill="#909090"/>
<rect x="352" y="716" width="1" height="3" fill="#909090"/>
<rect x="372" y="716" width="1" height="3" fill="#909090"/>
<rect x="392" y="716" width="1" height="3" fill="#909090"/>
<rect x="412" y="716" width="1" height="3" fill="#909090"/>
<rect x="428" y="716" width="1" height="3" fill="#909090"/>
<rect x="432" y="716" width="1" height="3" fill="#909090"/>
<rect x="452" y="716" width="1" height="3" fill="#909090"/>
<rect x="472" y="716" width="1" height="3" fill="#909090"/>
<rect x="492" y="716" width="1" height="3" fill="#909090"/>
<rect x="508" y="716" width="1" height="3" fill="#909090"/>
<rect x="528" y="716" width="1" height="3" fill="#909090"/>
<rect x="548" y="716" width="1" height="3" fill="#909090"/>
<rect x="568" y="716" width="1" height="3" fill="#909090"/>
<rect x="584" y="716" width="1" height="3" fill="#909090"/>
<rect x="592" y="716" width="1" height="3" fill="#909090"/>
<rect x="600" y="716" width="1" height="3" fill="#909090"/>
<rect x="621" y="716" width="1" height="3" fill="#909090"/>
<rect x="641" y="716" width="1" height="3" fill="#909090"/>
<rect x="657" y="716" width="1" height="3" fill="#909090"/>
<rect x="677" y="716" width="1" height="3" fill="#909090"/>
<rect x="697" y="716" width="1" height="3" fill="#909090"/>
<rect x="717" y="716" width="1" height="3" fill="#909090"/>
<rect x="733" y="716" width="1" height="3" fill="#909090"/>
<rect x="753" y="716" width="1" height="3" fill="#909090"/>
<rect x="773" y="716" width="1" height="3" fill="#909090"/>
<rect x="793" y="716" width="1" height="3" fill="#909090"/>
<rect x="813" y="716" width="1" height="3" fill="#909090"/>
<rect x="833" y="716" width="1" height="3" fill="#909090"/>
<rect x="837" y="716" width="1" height="3" fill="#909090"/>
<rect x="853" y="716" width="1" height="3" fill="#909090"/>
<rect x="873" y="716" width="1" height="3" fill="#909090"/>
<rect x="889" y="716" width="1" height="3" fill="#909090"/>
<rect x="909" y="716" width="1" height="3" fill="#909090"/>
<rect x="921" y="716" width="1" height="3" fill="#909090"/>
<rect x="929" y="716" width="1" height="3" fill="#909090"/>
<rect x="949" y="716" width="1" height="3" fill="#909090"/>
<rect x="969" y="716" width="1" height="3" fill="#909090"/>
<rect x="989" y="716" width="1" height="3" fill="#909090"/>
<rect x="1005" y="716" width="1" height="3" fill="#909090"/>
<rect x="1025" y="716" width="1" height="3" fill="#909090"/>
<rect x="1045" y="716" width="1" height="3" fill="#909090"/>
<rect x="1065" y="716" width="1" height="3" fill="#909090"/>
<rect x="1085" y="716" width="1" height="3" fill="#909090"/>
<rect x="1089" y="716" width="1" height="3" fill="#909090"/>
<rect x="1101" y="716" width="1" height="3" fill="#909090"/>
<text x="3.5" y="728.5" fill="#707070" font-size="10" text-anchor="middle" font-family="Liberation Sans, sans-serif" shape-rendering="auto">03</text>
<text x="20.3" y="728.5" fill="#707070" font-size="10" text-anchor="middle" font-family="Liberation Sans, sans-serif" shape-rendering="auto">10</text>
<text x="40.3" y="728.5" fill="#707070" font-size="10" text-anchor="middle" font-family="Liberation Sans, sans-serif" shape-rendering="auto">17</text>
<text x="60.4" y="728.5" fill="#707070" font-size="10" text-anchor="middle" font-family="Liberation Sans, sans-serif" shape-rendering="auto">24</text>
<text x="80.4" y="728.5" fill="#707070" font-size="10" text-anchor="middle" font-family="Liberation Sans, sans-serif" shape-rendering="auto">01</text>
<text x="96.4" y="728.5" fill="#707070" font-size="10" text-anchor="middle" font-family="Liberation Sans, sans-serif" shape-rendering="auto">08</text>
<text x="116.4" y="728.5" fill="#707070" font-size="10" text-anchor="middle" font-family="Liberation Sans, sans-serif" shape-rendering="auto">15</text>
<text x="136.5" y="728.5" fill="#707070" font-size="10" text-anchor="middle" font-family="Liberation Sans, sans-serif" shape-rendering="auto">22</text>
<text x="156.5" y="728.5" fill="#707070" font-size="10" text-anchor="middle" font-family="Liberation Sans, sans-serif" shape-rendering="auto">29</text>
<text x="176.5" y="728.5" fill="#707070" font-size="10" text-anchor="middle" font-family="Liberation Sans, sans-serif" shape-rendering="auto">05</text>
<text x="196.5" y="728.5" fill="#707070" font-size="10" text-anchor="middle" font-family="Liberation Sans, sans-serif" shape-rendering="auto">12</text>
<text x="216.5" y="728.5" fill="#707070" font-size="10" text-anchor="middle" font-family="Liberation Sans, sans-serif" shape-rendering="auto">19</text>
<text x="236.6" y="728.5" fill="#707070" font-size="10" text-anchor="middle" font-family="Liberation Sans, sans-serif" shape-rendering="auto">26</text>
<text x="256.6" y="728.5" fill="#707070" font-size="10" text-anchor="middle" font-family="Liberation Sans, sans-serif" shape-rendering="auto">03</text>
<text x="272.6" y="728.5" fill="#707070" font-size="10" text-anchor="middle" font-family="Liberation Sans, sans-serif" shape-rendering="auto">09</text>
<text x="292.6" y="728.5" fill="#707070" font-size="10" text-anchor="middle" font-family="Liberation Sans, sans-serif" shape-rendering="auto">16</text>
<text x="312.7" y="728.5" fill="#707070" font-size="10" text-anchor="middle" font-family="Liberation Sans, sans-serif" shape-rendering="auto">23</text>
<text x="332.7" y="728.5" fill="#707070" font-size="10" text-anchor="middle" font-family="Liberation Sans, sans-serif" shape-rendering="auto">30</text>
<text x="352.7" y="728.5" fill="#707070" font-size="10" text-anchor="middle" font-family="Liberation Sans, sans-serif" shape-rendering="auto">07</text>
<text x="372.7" y="728.5" fill="#707070" font-size="10" text-anchor="middle" font-family="Liberation Sans, sans-serif" shape-rendering="auto">14</text>
<text x="392.8" y="728.5" fill="#707070" font-size="10" text-anchor="middle" font-family="Liberation Sans, sans-serif" shape-rendering="auto">21</text>
<text x="412.8" y="728.5" fill="#707070" font-size="10" text-anchor="middle" font-family="Liberation Sans, sans-serif" shape-rendering="auto">28</text>
<text x="432.8" y="728.5" fill="#707070" font-size="10" text-anchor="middle" font-family="Liberation Sans, sans-serif" shape-rendering="auto">04</text>
<text x="452.8" y="728.5" fill="#707070" font-size="10" text-anchor="middle" font-family="Liberation Sans, sans-serif" shape-rendering="auto">11</text>
<text x="472.8" y="728.5" fill="#707070" font-size="10" text-anchor="middle" font-family="Liberation Sans, sans-serif" shape-rendering="auto">18</text>
<text x="492.9" y="728.5" fill="#707070" font-size="10" text-anchor="middle" font-family="Liberation Sans, sans-serif" shape-rendering="auto">25</text>
<text x="508.9" y="728.5" fill="#707070" font-size="10" text-anchor="middle" font-family="Liberation Sans, sans-serif" shape-rendering="auto">02</text>
<text x="528.9" y="728.5" fill="#707070" font-size="10" text-anchor="middle" font-family="Liberation Sans, sans-serif" shape-rendering="auto">09</text>
<text x="548.9" y="728.5" fill="#707070" font-size="10" text-anchor="middle" font-family="Liberation Sans, sans-serif" shape-rendering="auto">16</text>
<text x="569.0" y="728.5" fill="#707070" font-size="10" text-anchor="middle" font-family="Liberation Sans, sans-serif" shape-rendering="auto">23</text>
<text x="585.0" y="728.5" fill="#707070" font-size="10" text-anchor="middle" font-family="Liberation Sans, sans-serif" shape-rendering="auto">30</text>
<text x="601.0" y="728.5" fill="#707070" font-size="10" text-anchor="middle" font-family="Liberation Sans, sans-serif" shape-rendering="auto">06</text>
<text x="621.0" y="728.5" fill="#707070" font-size="10" text-anchor="middle" font-family="Liberation Sans, sans-serif" shape-rendering="auto">13</text>
<text x="641.0" y="728.5" fill="#707070" font-size="10" text-anchor="middle" font-family="Liberation Sans, sans-serif" shape-rendering="auto">21</text>
<text x="657.1" y="728.5" fill="#707070" font-size="10" text-anchor="middle" font-family="Liberation Sans, sans-serif" shape-rendering="auto">27</text>
<text x="677.1" y="728.5" fill="#707070" font-size="10" text-anchor="middle" font-family="Liberation Sans, sans-serif" shape-rendering="auto">03</text>
<text x="697.1" y="728.5" fill="#707070" font-size="10" text-anchor="middle" font-family="Liberation Sans, sans-serif" shape-rendering="auto">10</text>
<text x="717.1" y="728.5" fill="#707070" font-size="10" text-anchor="middle" font-family="Liberation Sans, sans-serif" shape-rendering="auto">18</text>
<text x="733.1" y="728.5" fill="#707070" font-size="10" text-anchor="middle" font-family="Liberation Sans, sans-serif" shape-rendering="auto">24</text>
<text x="753.2" y="728.5" fill="#707070" font-size="10" text-anchor="middle" font-family="Liberation Sans, sans-serif" shape-rendering="auto">03</text>
<text x="773.2" y="728.5" fill="#707070" font-size="10" text-anchor="middle" font-family="Liberation Sans, sans-serif" shape-rendering="auto">10</text>
<text x="793.2" y="728.5" fill="#707070" font-size="10" text-anchor="middle" font-family="Liberation Sans, sans-serif" shape-rendering="auto">17</text>
<text x="813.2" y="728.5" fill="#707070" font-size="10" text-anchor="middle" font-family="Liberation Sans, sans-serif" shape-rendering="auto">24</text>
<text x="833.3" y="728.5" fill="#707070" font-size="10" text-anchor="middle" font-family="Liberation Sans, sans-serif" shape-rendering="auto">31</text>
<text x="853.3" y="728.5" fill="#707070" font-size="10" text-anchor="middle" font-family="Liberation Sans, sans-serif" shape-rendering="auto">07</text>
<text x="873.3" y="728.5" fill="#707070" font-size="10" text-anchor="middle" font-family="Liberation Sans, sans-serif" shape-rendering="auto">14</text>
<text x="889.3" y="728.5" fill="#707070" font-size="10" text-anchor="middle" font-family="Liberation Sans, sans-serif" shape-rendering="auto">21</text>
<text x="909.3" y="728.5" fill="#707070" font-size="10" text-anchor="middle" font-family="Liberation Sans, sans-serif" shape-rendering="auto">28</text>
<text x="929.4" y="728.5" fill="#707070" font-size="10" text-anchor="middle" font-family="Liberation Sans, sans-serif" shape-rendering="auto">05</text>
<text x="949.4" y="728.5" fill="#707070" font-size="10" text-anchor="middle" font-family="Liberation Sans, sans-serif" shape-rendering="auto">12</text>
<text x="969.4" y="728.5" fill="#707070" font-size="10" text-anchor="middle" font-family="Liberation Sans, sans-serif" shape-rendering="auto">19</text>
<text x="989.4" y="728.5" fill="#707070" font-size="10" text-anchor="middle" font-family="Liberation Sans, sans-serif" shape-rendering="auto">27</text>
<text x="1005.5" y="728.5" fill="#707070" font-size="10" text-anchor="middle" font-family="Liberation Sans, sans-serif" shape-rendering="auto">02</text>
<text x="1025.5" y="728.5" fill="#707070" font-size="10" text-anchor="middle" font-family="Liberation Sans, sans-serif" shape-rendering="auto">09</text>
<text x="1045.5" y="728.5" fill="#707070" font-size="10" text-anchor="middle" font-family="Liberation Sans, sans-serif" shape-rendering="auto">16</text>
<text x="1065.5" y="728.5" fill="#707070" font-size="10" text-anchor="middle" font-family="Liberation Sans, sans-serif" shape-rendering="auto">23</text>
<text x="1085.5" y="728.5" fill="#707070" font-size="10" text-anchor="middle" font-family="Liberation Sans, sans-serif" shape-rendering="auto">30</text>
<text x="1101.6" y="728.5" fill="#707070" font-size="10" text-anchor="middle" font-family="Liberation Sans, sans-serif" shape-rendering="auto">07</text>
<rect x="0" y="731" width="1.4" height="12" fill="#909090"/>
<text x="40.0" y="740.5" fill="#606060" font-size="11" font-weight="bold" text-anchor="middle" font-family="Liberation Sans, sans-serif" shape-rendering="auto">июн 13</text>
<rect x="80" y="731" width="1.4" height="12" fill="#909090"/>
<text x="124.0" y="740.5" fill="#606060" font-size="11" font-weight="bold" text-anchor="middle" font-family="Liberation Sans, sans-serif" shape-rendering="auto">июл 13</text>
<rect x="168" y="731" width="1.4" height="12" fill="#909090"/>
<text x="212.0" y="740.5" fill="#606060" font-size="11" font-weight="bold" text-anchor="middle" font-family="Liberation Sans, sans-serif" shape-rendering="auto">авг 13</text>
<rect x="256" y="731" width="1.4" height="12" fill="#909090"/>
<text x="296.0" y="740.5" fill="#606060" font-size="11" font-weight="bold" text-anchor="middle" font-family="Liberation Sans, sans-serif" shape-rendering="auto">сен 13</text>
<rect x="336" y="731" width="1.4" height="12" fill="#909090"/>
<text x="382.0" y="740.5" fill="#606060" font-size="11" font-weight="bold" text-anchor="middle" font-family="Liberation Sans, sans-serif" shape-rendering="auto">окт 13</text>
<rect x="428" y="731" width="1.4" height="12" fill="#909090"/>
<text x="468.0" y="740.5" fill="#606060" font-size="11" font-weight="bold" text-anchor="middle" font-family="Liberation Sans, sans-serif" shape-rendering="auto">ноя 13</text>
<rect x="508" y="731" width="1.4" height="12" fill="#909090"/>
<text x="550.0" y="740.5" fill="#606060" font-size="11" font-weight="bold" text-anchor="middle" font-family="Liberation Sans, sans-serif" shape-rendering="auto">дек 13</text>
<rect x="592" y="731" width="1.4" height="12" fill="#909090"/>
<text x="634.5" y="740.5" fill="#606060" font-size="11" font-weight="bold" text-anchor="middle" font-family="Liberation Sans, sans-serif" shape-rendering="auto">янв 14</text>
<rect x="677" y="731" width="1.4" height="12" fill="#909090"/>
<text x="715.0" y="740.5" fill="#606060" font-size="11" font-weight="bold" text-anchor="middle" font-family="Liberation Sans, sans-serif" shape-rendering="auto">фев 14</text>
<rect x="753" y="731" width="1.4" height="12" fill="#909090"/>
<text x="795.0" y="740.5" fill="#606060" font-size="11" font-weight="bold" text-anchor="middle" font-family="Liberation Sans, sans-serif" shape-rendering="auto">мар 14</text>
<rect x="837" y="731" width="1.4" height="12" fill="#909090"/>
<text x="879.0" y="740.5" fill="#606060" font-size="11" font-weight="bold" text-anchor="middle" font-family="Liberation Sans, sans-serif" shape-rendering="auto">апр 14</text>
<rect x="921" y="731" width="1.4" height="12" fill="#909090"/>
<text x="963.0" y="740.5" fill="#606060" font-size="11" font-weight="bold" text-anchor="middle" font-family="Liberation Sans, sans-serif" shape-rendering="auto">май 14</text>
<rect x="1005" y="731" width="1.4" height="12" fill="#909090"/>
<text x="1047.0" y="740.5" fill="#606060" font-size="11" font-weight="bold" text-anchor="middle" font-family="Liberation Sans, sans-serif" shape-rendering="auto">июн 14</text>
<rect x="1089" y="731" width="1.4" height="12" fill="#909090"/>
<rect x="0" y="731" width="1.5" height="12" fill="#303030"/>
<rect x="0" y="743" width="1094" height="3" fill="#cacaca"/>
<rect x="0" y="746" width="1160" height="12" fill="#f7f7f7"/>
<rect x="1107" y="716" width="53" height="42" fill="#fafafa"/>
<rect x="1155" y="0" width="5" height="716" fill="#f8f8f8"/>
<rect x="1107" y="523" width="5" height="1" fill="#707070"/>
<text x="1113.5" y="526.5" fill="#707070" font-size="10"  font-family="Liberation Sans, sans-serif" shape-rendering="auto">1 620</text>
<rect x="1107" y="496" width="5" height="1" fill="#707070"/>
<text x="1113.5" y="499.2" fill="#707070" font-size="10"  font-family="Liberation Sans, sans-serif" shape-rendering="auto">1 640</text>
<rect x="1107" y="468" width="5" height="1" fill="#707070"/>
<text x="1113.5" y="471.9" fill="#707070" font-size="10"  font-family="Liberation Sans, sans-serif" shape-rendering="auto">1 660</text>
<rect x="1107" y="441" width="5" height="1" fill="#707070"/>
<text x="1113.5" y="444.6" fill="#707070" font-size="10"  font-family="Liberation Sans, sans-serif" shape-rendering="auto">1 680</text>
<rect x="1107" y="414" width="5" height="1" fill="#707070"/>
<text x="1113.5" y="417.3" fill="#707070" font-size="10"  font-family="Liberation Sans, sans-serif" shape-rendering="auto">1 700</text>
<rect x="1107" y="386" width="5" height="1" fill="#707070"/>
<text x="1113.5" y="390.0" fill="#707070" font-size="10"  font-family="Liberation Sans, sans-serif" shape-rendering="auto">1 720</text>
<rect x="1107" y="359" width="5" height="1" fill="#707070"/>
<text x="1113.5" y="362.7" fill="#707070" font-size="10"  font-family="Liberation Sans, sans-serif" shape-rendering="auto">1 740</text>
<rect x="1107" y="332" width="5" height="1" fill="#707070"/>
<text x="1113.5" y="335.4" fill="#707070" font-size="10"  font-family="Liberation Sans, sans-serif" shape-rendering="auto">1 760</text>
<rect x="1107" y="304" width="5" height="1" fill="#707070"/>
<text x="1113.5" y="308.1" fill="#707070" font-size="10"  font-family="Liberation Sans, sans-serif" shape-rendering="auto">1 780</text>
<rect x="1107" y="277" width="5" height="1" fill="#707070"/>
<text x="1113.5" y="281.0" fill="#404040" font-size="11" font-weight="bold" font-family="Liberation Sans, sans-serif" shape-rendering="auto">1 800</text>
<rect x="1107" y="250" width="5" height="1" fill="#707070"/>
<text x="1113.5" y="253.5" fill="#707070" font-size="10"  font-family="Liberation Sans, sans-serif" shape-rendering="auto">1 820</text>
<rect x="1107" y="223" width="5" height="1" fill="#707070"/>
<text x="1113.5" y="226.2" fill="#707070" font-size="10"  font-family="Liberation Sans, sans-serif" shape-rendering="auto">1 840</text>
<rect x="1107" y="195" width="5" height="1" fill="#707070"/>
<text x="1113.5" y="198.9" fill="#707070" font-size="10"  font-family="Liberation Sans, sans-serif" shape-rendering="auto">1 860</text>
<rect x="1107" y="168" width="5" height="1" fill="#707070"/>
<text x="1113.5" y="171.6" fill="#707070" font-size="10"  font-family="Liberation Sans, sans-serif" shape-rendering="auto">1 880</text>
<rect x="1107" y="141" width="5" height="1" fill="#707070"/>
<text x="1113.5" y="144.3" fill="#707070" font-size="10"  font-family="Liberation Sans, sans-serif" shape-rendering="auto">1 900</text>
<rect x="1107" y="113" width="5" height="1" fill="#707070"/>
<text x="1113.5" y="117.0" fill="#707070" font-size="10"  font-family="Liberation Sans, sans-serif" shape-rendering="auto">1 920</text>
<rect x="1107" y="86" width="5" height="1" fill="#707070"/>
<text x="1113.5" y="89.7" fill="#707070" font-size="10"  font-family="Liberation Sans, sans-serif" shape-rendering="auto">1 940</text>
<rect x="1107" y="59" width="5" height="1" fill="#707070"/>
<text x="1113.5" y="62.4" fill="#707070" font-size="10"  font-family="Liberation Sans, sans-serif" shape-rendering="auto">1 960</text>
<text x="1112" y="24" fill="#6a6a6a" font-size="10.5" font-weight="bold" font-family="Liberation Sans, sans-serif" shape-rendering="auto">Price</text>
<rect x="1107" y="77.0" width="48" height="12.0" fill="#000"/>
<text x="1108" y="86.6" fill="#fff" font-size="11" font-weight="bold" font-family="Liberation Sans, sans-serif" shape-rendering="auto">1 941,99</text>
<rect x="1107" y="134.3" width="48" height="11.5" fill="#c444f4"/>
<text x="1108" y="143.4" fill="#3a1070" font-size="11"  font-family="Liberation Sans, sans-serif" shape-rendering="auto">1 900,18</text>
<rect x="1107" y="255.0" width="48" height="11.5" fill="#3a8a82"/>
<text x="1108" y="264.1" fill="#e8f4f0" font-size="11"  font-family="Liberation Sans, sans-serif" shape-rendering="auto">1 812,20</text>
<rect x="1107" y="543.9" width="48" height="8.9" fill="#ff4010"/>
<text x="1108" y="550.4" fill="#8a1000" font-size="11" font-weight="bold" font-family="Liberation Sans, sans-serif" shape-rendering="auto">15,73</text>
<rect x="1107" y="552.8" width="48" height="11.9" fill="#1e98ff"/>
<text x="1108" y="562.3" fill="#0a2a58" font-size="11" font-weight="bold" font-family="Liberation Sans, sans-serif" shape-rendering="auto">15,08</text>
<rect x="1107" y="589" width="5" height="1" fill="#707070"/>
<text x="1114" y="593.5" fill="#505050" font-size="10.5" font-weight="bold" font-family="Liberation Sans, sans-serif" shape-rendering="auto">0</text>
<rect x="1107" y="610" width="5" height="1" fill="#707070"/>
<text x="1113" y="614" fill="#707070" font-size="10" font-family="Liberation Sans, sans-serif" shape-rendering="auto">-10</text>
<text x="1112" y="653" fill="#6a6a6a" font-size="10.5" font-weight="bold" font-family="Liberation Sans, sans-serif" shape-rendering="auto">Value</text>
<rect x="1107" y="679" width="5" height="1" fill="#707070"/>
<text x="1114" y="682.4" fill="#707070" font-size="10" font-family="Liberation Sans, sans-serif" shape-rendering="auto">40</text>
<rect x="1107" y="694" width="5" height="1" fill="#707070"/>
<text x="1114" y="698.0" fill="#707070" font-size="10" font-family="Liberation Sans, sans-serif" shape-rendering="auto">20</text>
<text x="1114" y="666.3" fill="#707070" font-size="10" font-family="Liberation Sans, sans-serif" shape-rendering="auto">60</text>
<rect x="1107" y="654.0" width="48" height="11.5" fill="#000"/>
<text x="1108" y="663.1" fill="#fff" font-size="11" font-weight="bold" font-family="Liberation Sans, sans-serif" shape-rendering="auto">63,735</text>
<rect x="1107" y="711" width="5" height="1" fill="#404040"/>
<text x="1114" y="711" fill="#505050" font-size="10.5" font-weight="bold" font-family="Liberation Sans, sans-serif" shape-rendering="auto">0</text>
<rect x="-1" y="-1" width="231.5" height="39.5" fill="#fff" stroke="#202020" stroke-width="1"/>
<rect x="0" y="0" width="1160" height="2" fill="#f4f4f4"/>
<text x="7" y="23.9" fill="#222" font-size="17.75" font-family="Liberation Sans, sans-serif" shape-rendering="auto">S&amp;P 500, дневной график</text>
<rect x="0" y="758" width="1160" height="28" fill="#3c3c3c"/>
<text x="11" y="776.5" fill="#e6e6e6" font-size="13.5" letter-spacing="0.4" font-family="Liberation Sans, sans-serif" shape-rendering="auto">Элитный Трейдер, ELITETRADER.RU</text>
<g shape-rendering="auto"><defs><linearGradient id="ga" x1="0" y1="0" x2="0" y2="1"><stop offset="0" stop-color="#b8e060"/><stop offset="1" stop-color="#3a9a10"/></linearGradient><linearGradient id="gb" x1="0" y1="0" x2="0" y2="1"><stop offset="0" stop-color="#ffd040"/><stop offset="1" stop-color="#e04010"/></linearGradient><radialGradient id="gc" cx="0.4" cy="0.35" r="0.7"><stop offset="0" stop-color="#ffd040"/><stop offset="0.6" stop-color="#f08a20"/><stop offset="1" stop-color="#e05018"/></radialGradient></defs>
<rect x="1035.6" y="773.5" width="9.5" height="5.6" fill="url(#gb)"/>
<path d="M1045.2 779.2V770.6H1037.3L1045.2 762.3L1053.1 770.6H1048.6V779.2Z" fill="url(#ga)"/>
<text x="1056.5" y="776.6" fill="#fff" font-size="15.5" font-weight="bold" letter-spacing="-0.6" font-family="Liberation Sans, sans-serif" shape-rendering="auto">clip</text>
<circle cx="1087.4" cy="771.6" r="7.6" fill="url(#gc)"/>
<text x="1087.4" y="776.8" fill="#fff" font-size="14" font-weight="bold" text-anchor="middle" font-family="Liberation Sans, sans-serif" shape-rendering="auto">2</text>
<text x="1095" y="776.6" fill="#fff" font-size="15.5" font-weight="bold" letter-spacing="-0.6" font-family="Liberation Sans, sans-serif" shape-rendering="auto">net</text>
<text x="1116.5" y="776.6" fill="#9a9a9a" font-size="15.5" font-weight="bold" letter-spacing="-0.6" font-family="Liberation Sans, sans-serif" shape-rendering="auto">.com</text>
</g>
</svg>
</body></html>
